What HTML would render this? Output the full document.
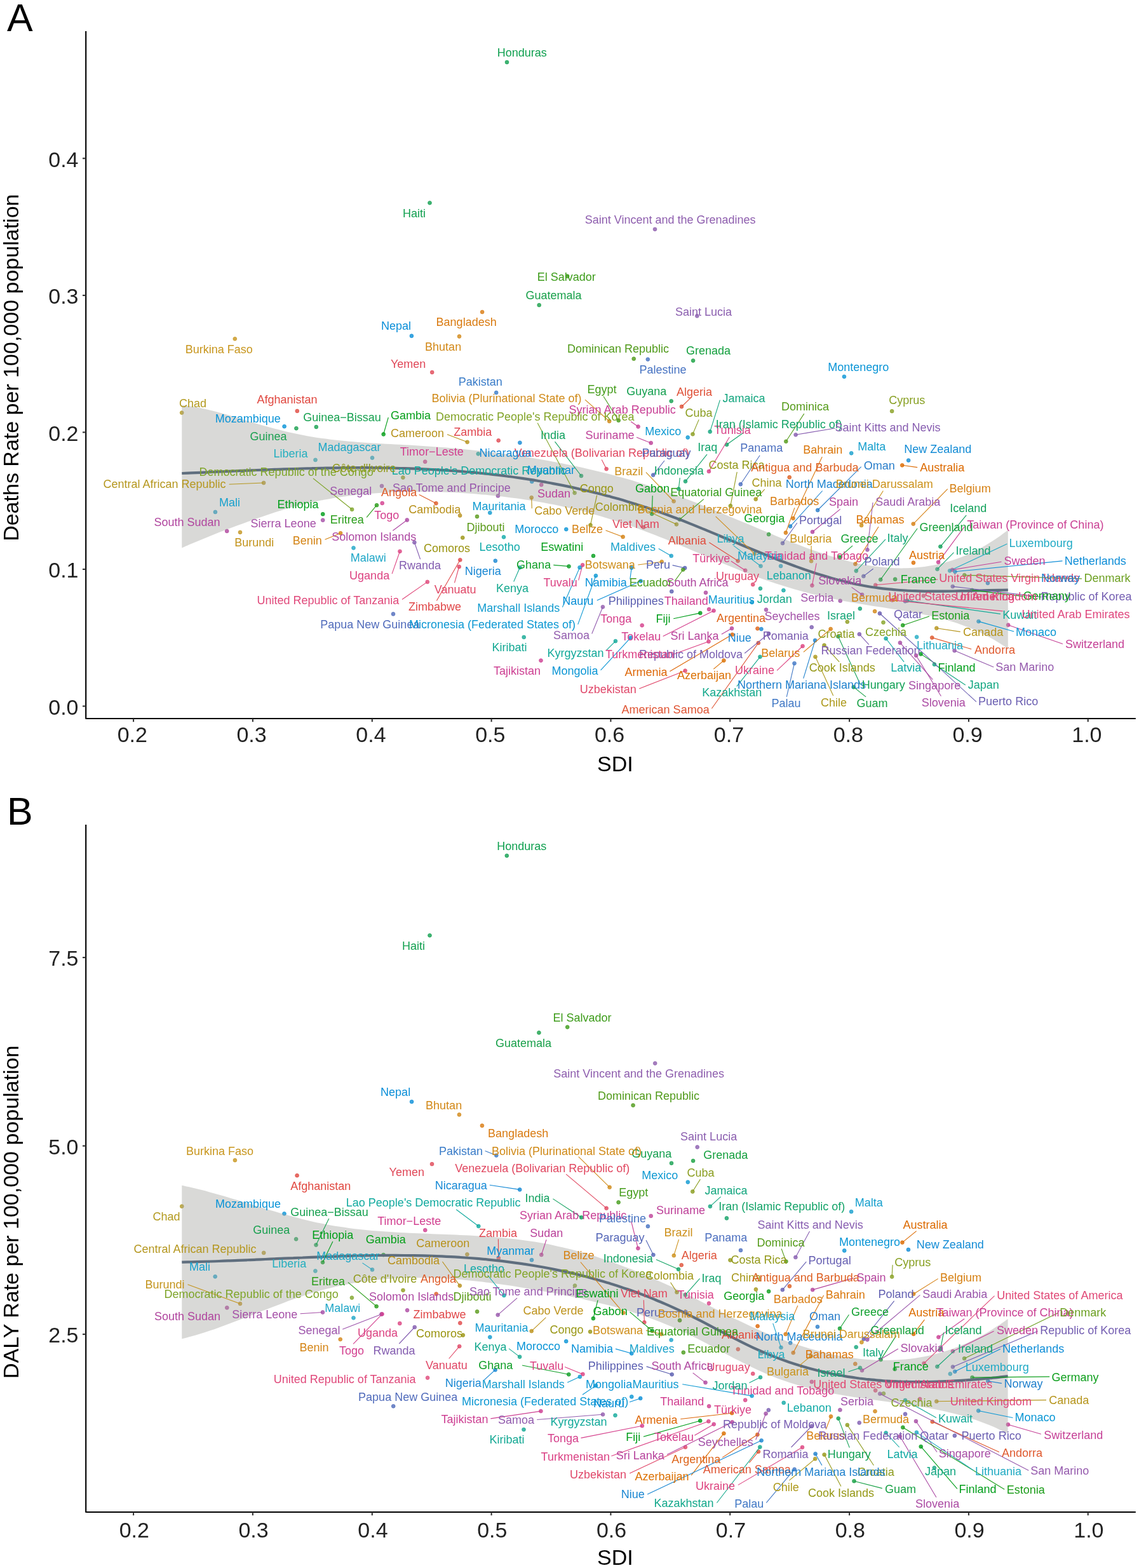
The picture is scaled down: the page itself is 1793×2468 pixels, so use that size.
<!DOCTYPE html>
<html><head><meta charset="utf-8"><title>SDI scatter</title>
<style>html,body{margin:0;padding:0;background:#fff;}svg{display:block;}</style>
</head><body>
<svg xmlns="http://www.w3.org/2000/svg" width="1793" height="2468" viewBox="0 0 1793 2468">
<style>
text{font-family:"Liberation Sans",Arial,sans-serif;font-size:18.0px;}
.lb text{stroke-width:0px;}
.tick{font-size:34px;fill:#222222;}
.title{font-size:34px;fill:#000;}
.letter{font-size:61px;fill:#000;}
</style>
<rect width="1793" height="2468" fill="#fff"/>
<circle cx="798.0" cy="97.9" r="2.9" fill="#10A050" fill-opacity="0.8" stroke="#10A050" stroke-opacity="0.8" stroke-width="0.9"/>
<circle cx="676.5" cy="319.3" r="2.9" fill="#12A050" fill-opacity="0.8" stroke="#12A050" stroke-opacity="0.8" stroke-width="0.9"/>
<circle cx="1031.0" cy="360.8" r="2.9" fill="#8E5EAE" fill-opacity="0.8" stroke="#8E5EAE" stroke-opacity="0.8" stroke-width="0.9"/>
<circle cx="893.1" cy="434.7" r="2.9" fill="#3D9C1A" fill-opacity="0.8" stroke="#3D9C1A" stroke-opacity="0.8" stroke-width="0.9"/>
<circle cx="848.7" cy="480.2" r="2.9" fill="#19A04A" fill-opacity="0.8" stroke="#19A04A" stroke-opacity="0.8" stroke-width="0.9"/>
<circle cx="759.1" cy="491.1" r="2.9" fill="#D97A10" fill-opacity="0.8" stroke="#D97A10" stroke-opacity="0.8" stroke-width="0.9"/>
<circle cx="1097.3" cy="497.3" r="2.9" fill="#8B5EAF" fill-opacity="0.8" stroke="#8B5EAF" stroke-opacity="0.8" stroke-width="0.9"/>
<circle cx="647.9" cy="528.7" r="2.9" fill="#0A8ED8" fill-opacity="0.8" stroke="#0A8ED8" stroke-opacity="0.8" stroke-width="0.9"/>
<circle cx="723.0" cy="529.5" r="2.9" fill="#D28817" fill-opacity="0.8" stroke="#D28817" stroke-opacity="0.8" stroke-width="0.9"/>
<circle cx="680.2" cy="586.0" r="2.9" fill="#E04858" fill-opacity="0.8" stroke="#E04858" stroke-opacity="0.8" stroke-width="0.9"/>
<circle cx="781.2" cy="618.0" r="2.9" fill="#3A7CC8" fill-opacity="0.8" stroke="#3A7CC8" stroke-opacity="0.8" stroke-width="0.9"/>
<circle cx="959.2" cy="663.0" r="2.9" fill="#D08A18" fill-opacity="0.8" stroke="#D08A18" stroke-opacity="0.8" stroke-width="0.9"/>
<circle cx="997.7" cy="564.7" r="2.9" fill="#509A1A" fill-opacity="0.8" stroke="#509A1A" stroke-opacity="0.8" stroke-width="0.9"/>
<circle cx="973.7" cy="661.7" r="2.9" fill="#449C1A" fill-opacity="0.8" stroke="#449C1A" stroke-opacity="0.8" stroke-width="0.9"/>
<circle cx="1004.6" cy="671.5" r="2.9" fill="#C84095" fill-opacity="0.8" stroke="#C84095" stroke-opacity="0.8" stroke-width="0.9"/>
<circle cx="603.7" cy="683.5" r="2.9" fill="#069F1A" fill-opacity="0.8" stroke="#069F1A" stroke-opacity="0.8" stroke-width="0.9"/>
<circle cx="904.6" cy="775.8" r="2.9" fill="#82A428" fill-opacity="0.8" stroke="#82A428" stroke-opacity="0.8" stroke-width="0.9"/>
<circle cx="735.6" cy="695.8" r="2.9" fill="#B7921C" fill-opacity="0.8" stroke="#B7921C" stroke-opacity="0.8" stroke-width="0.9"/>
<circle cx="784.7" cy="693.3" r="2.9" fill="#E04851" fill-opacity="0.8" stroke="#E04851" stroke-opacity="0.8" stroke-width="0.9"/>
<circle cx="915.0" cy="749.0" r="2.9" fill="#12A15F" fill-opacity="0.8" stroke="#12A15F" stroke-opacity="0.8" stroke-width="0.9"/>
<circle cx="954.6" cy="738.1" r="2.9" fill="#E14861" fill-opacity="0.8" stroke="#E14861" stroke-opacity="0.8" stroke-width="0.9"/>
<circle cx="669.2" cy="726.7" r="2.9" fill="#D13E8F" fill-opacity="0.8" stroke="#D13E8F" stroke-opacity="0.8" stroke-width="0.9"/>
<circle cx="369.8" cy="533.3" r="2.9" fill="#C8961E" fill-opacity="0.8" stroke="#C8961E" stroke-opacity="0.8" stroke-width="0.9"/>
<circle cx="286.2" cy="649.6" r="2.9" fill="#B39A20" fill-opacity="0.8" stroke="#B39A20" stroke-opacity="0.8" stroke-width="0.9"/>
<circle cx="467.8" cy="646.9" r="2.9" fill="#E04840" fill-opacity="0.8" stroke="#E04840" stroke-opacity="0.8" stroke-width="0.9"/>
<circle cx="447.6" cy="671.2" r="2.9" fill="#0993D7" fill-opacity="0.8" stroke="#0993D7" stroke-opacity="0.8" stroke-width="0.9"/>
<circle cx="497.8" cy="672.0" r="2.9" fill="#17A150" fill-opacity="0.8" stroke="#17A150" stroke-opacity="0.8" stroke-width="0.9"/>
<circle cx="466.4" cy="674.2" r="2.9" fill="#1AA050" fill-opacity="0.8" stroke="#1AA050" stroke-opacity="0.8" stroke-width="0.9"/>
<circle cx="496.5" cy="723.9" r="2.9" fill="#25AFBF" fill-opacity="0.8" stroke="#25AFBF" stroke-opacity="0.8" stroke-width="0.9"/>
<circle cx="586.0" cy="720.6" r="2.9" fill="#1FA7C6" fill-opacity="0.8" stroke="#1FA7C6" stroke-opacity="0.8" stroke-width="0.9"/>
<circle cx="554.1" cy="801.8" r="2.9" fill="#7FA52A" fill-opacity="0.8" stroke="#7FA52A" stroke-opacity="0.8" stroke-width="0.9"/>
<circle cx="415.1" cy="760.0" r="2.9" fill="#B5971F" fill-opacity="0.8" stroke="#B5971F" stroke-opacity="0.8" stroke-width="0.9"/>
<circle cx="601.0" cy="764.9" r="2.9" fill="#9D54AB" fill-opacity="0.8" stroke="#9D54AB" stroke-opacity="0.8" stroke-width="0.9"/>
<circle cx="338.9" cy="805.9" r="2.9" fill="#18A0CD" fill-opacity="0.8" stroke="#18A0CD" stroke-opacity="0.8" stroke-width="0.9"/>
<circle cx="357.2" cy="835.9" r="2.9" fill="#B0459E" fill-opacity="0.8" stroke="#B0459E" stroke-opacity="0.8" stroke-width="0.9"/>
<circle cx="378.0" cy="837.8" r="2.9" fill="#C3941D" fill-opacity="0.8" stroke="#C3941D" stroke-opacity="0.8" stroke-width="0.9"/>
<circle cx="508.2" cy="809.2" r="2.9" fill="#009E1A" fill-opacity="0.8" stroke="#009E1A" stroke-opacity="0.8" stroke-width="0.9"/>
<circle cx="508.2" cy="818.7" r="2.9" fill="#A54FA7" fill-opacity="0.8" stroke="#A54FA7" stroke-opacity="0.8" stroke-width="0.9"/>
<circle cx="593.0" cy="795.2" r="2.9" fill="#2A9D1A" fill-opacity="0.8" stroke="#2A9D1A" stroke-opacity="0.8" stroke-width="0.9"/>
<circle cx="536.1" cy="839.2" r="2.9" fill="#D48415" fill-opacity="0.8" stroke="#D48415" stroke-opacity="0.8" stroke-width="0.9"/>
<circle cx="640.8" cy="818.5" r="2.9" fill="#AD48A2" fill-opacity="0.8" stroke="#AD48A2" stroke-opacity="0.8" stroke-width="0.9"/>
<circle cx="556.5" cy="862.4" r="2.9" fill="#1EA6C7" fill-opacity="0.8" stroke="#1EA6C7" stroke-opacity="0.8" stroke-width="0.9"/>
<circle cx="629.5" cy="867.8" r="2.9" fill="#DC4482" fill-opacity="0.8" stroke="#DC4482" stroke-opacity="0.8" stroke-width="0.9"/>
<circle cx="672.8" cy="915.9" r="2.9" fill="#E0487A" fill-opacity="0.8" stroke="#E0487A" stroke-opacity="0.8" stroke-width="0.9"/>
<circle cx="619.0" cy="966.4" r="2.9" fill="#506BBB" fill-opacity="0.8" stroke="#506BBB" stroke-opacity="0.8" stroke-width="0.9"/>
<circle cx="783.9" cy="780.4" r="2.9" fill="#9858AC" fill-opacity="0.8" stroke="#9858AC" stroke-opacity="0.8" stroke-width="0.9"/>
<circle cx="686.4" cy="792.2" r="2.9" fill="#DE5C29" fill-opacity="0.8" stroke="#DE5C29" stroke-opacity="0.8" stroke-width="0.9"/>
<circle cx="852.2" cy="763.0" r="2.9" fill="#BA429A" fill-opacity="0.8" stroke="#BA429A" stroke-opacity="0.8" stroke-width="0.9"/>
<circle cx="818.4" cy="696.8" r="2.9" fill="#1589D5" fill-opacity="0.8" stroke="#1589D5" stroke-opacity="0.8" stroke-width="0.9"/>
<circle cx="752.8" cy="714.3" r="2.9" fill="#12AA9F" fill-opacity="0.8" stroke="#12AA9F" stroke-opacity="0.8" stroke-width="0.9"/>
<circle cx="634.4" cy="751.6" r="2.9" fill="#919B1C" fill-opacity="0.8" stroke="#919B1C" stroke-opacity="0.8" stroke-width="0.9"/>
<circle cx="601.7" cy="792.0" r="2.9" fill="#D33F8E" fill-opacity="0.8" stroke="#D33F8E" stroke-opacity="0.8" stroke-width="0.9"/>
<circle cx="724.1" cy="811.4" r="2.9" fill="#B8901A" fill-opacity="0.8" stroke="#B8901A" stroke-opacity="0.8" stroke-width="0.9"/>
<circle cx="771.3" cy="807.1" r="2.9" fill="#109AD0" fill-opacity="0.8" stroke="#109AD0" stroke-opacity="0.8" stroke-width="0.9"/>
<circle cx="751.0" cy="813.0" r="2.9" fill="#5A9A1A" fill-opacity="0.8" stroke="#5A9A1A" stroke-opacity="0.8" stroke-width="0.9"/>
<circle cx="652.4" cy="853.7" r="2.9" fill="#845DB0" fill-opacity="0.8" stroke="#845DB0" stroke-opacity="0.8" stroke-width="0.9"/>
<circle cx="728.3" cy="846.3" r="2.9" fill="#9A9410" fill-opacity="0.8" stroke="#9A9410" stroke-opacity="0.8" stroke-width="0.9"/>
<circle cx="793.0" cy="845.3" r="2.9" fill="#10AAAA" fill-opacity="0.8" stroke="#10AAAA" stroke-opacity="0.8" stroke-width="0.9"/>
<circle cx="779.8" cy="882.7" r="2.9" fill="#1887D3" fill-opacity="0.8" stroke="#1887D3" stroke-opacity="0.8" stroke-width="0.9"/>
<circle cx="1028.2" cy="747.7" r="2.9" fill="#5466B7" fill-opacity="0.8" stroke="#5466B7" stroke-opacity="0.8" stroke-width="0.9"/>
<circle cx="837.3" cy="758.0" r="2.9" fill="#0992D7" fill-opacity="0.8" stroke="#0992D7" stroke-opacity="0.8" stroke-width="0.9"/>
<circle cx="929.5" cy="826.5" r="2.9" fill="#989613" fill-opacity="0.8" stroke="#989613" stroke-opacity="0.8" stroke-width="0.9"/>
<circle cx="836.7" cy="783.2" r="2.9" fill="#BD921B" fill-opacity="0.8" stroke="#BD921B" stroke-opacity="0.8" stroke-width="0.9"/>
<circle cx="1064.9" cy="825.3" r="2.9" fill="#A09615" fill-opacity="0.8" stroke="#A09615" stroke-opacity="0.8" stroke-width="0.9"/>
<circle cx="1060.6" cy="789.0" r="2.9" fill="#CD901B" fill-opacity="0.8" stroke="#CD901B" stroke-opacity="0.8" stroke-width="0.9"/>
<circle cx="1068.3" cy="769.6" r="2.9" fill="#12A364" fill-opacity="0.8" stroke="#12A364" stroke-opacity="0.8" stroke-width="0.9"/>
<circle cx="1026.2" cy="808.8" r="2.9" fill="#039E1A" fill-opacity="0.8" stroke="#039E1A" stroke-opacity="0.8" stroke-width="0.9"/>
<circle cx="1069.9" cy="817.6" r="2.9" fill="#359C1A" fill-opacity="0.8" stroke="#359C1A" stroke-opacity="0.8" stroke-width="0.9"/>
<circle cx="1187.8" cy="871.6" r="2.9" fill="#CF8C19" fill-opacity="0.8" stroke="#CF8C19" stroke-opacity="0.8" stroke-width="0.9"/>
<circle cx="1013.0" cy="829.8" r="2.9" fill="#E0475D" fill-opacity="0.8" stroke="#E0475D" stroke-opacity="0.8" stroke-width="0.9"/>
<circle cx="891.3" cy="833.1" r="2.9" fill="#0994D6" fill-opacity="0.8" stroke="#0994D6" stroke-opacity="0.8" stroke-width="0.9"/>
<circle cx="980.6" cy="845.0" r="2.9" fill="#D58214" fill-opacity="0.8" stroke="#D58214" stroke-opacity="0.8" stroke-width="0.9"/>
<circle cx="1161.6" cy="882.8" r="2.9" fill="#E04C3C" fill-opacity="0.8" stroke="#E04C3C" stroke-opacity="0.8" stroke-width="0.9"/>
<circle cx="934.0" cy="874.9" r="2.9" fill="#039D1A" fill-opacity="0.8" stroke="#039D1A" stroke-opacity="0.8" stroke-width="0.9"/>
<circle cx="1056.7" cy="874.9" r="2.9" fill="#1AA2CB" fill-opacity="0.8" stroke="#1AA2CB" stroke-opacity="0.8" stroke-width="0.9"/>
<circle cx="895.5" cy="891.4" r="2.9" fill="#109F28" fill-opacity="0.8" stroke="#109F28" stroke-opacity="0.8" stroke-width="0.9"/>
<circle cx="1041.7" cy="884.2" r="2.9" fill="#CE8E1A" fill-opacity="0.8" stroke="#CE8E1A" stroke-opacity="0.8" stroke-width="0.9"/>
<circle cx="1078.1" cy="894.0" r="2.9" fill="#5762B4" fill-opacity="0.8" stroke="#5762B4" stroke-opacity="0.8" stroke-width="0.9"/>
<circle cx="1024.7" cy="697.2" r="2.9" fill="#BE4299" fill-opacity="0.8" stroke="#BE4299" stroke-opacity="0.8" stroke-width="0.9"/>
<circle cx="1079.0" cy="757.6" r="2.9" fill="#13A46D" fill-opacity="0.8" stroke="#13A46D" stroke-opacity="0.8" stroke-width="0.9"/>
<circle cx="1165.8" cy="762.2" r="2.9" fill="#4C6FBF" fill-opacity="0.8" stroke="#4C6FBF" stroke-opacity="0.8" stroke-width="0.9"/>
<circle cx="1248.5" cy="815.8" r="2.9" fill="#DA770C" fill-opacity="0.8" stroke="#DA770C" stroke-opacity="0.8" stroke-width="0.9"/>
<circle cx="1340.2" cy="713.3" r="2.9" fill="#169FCD" fill-opacity="0.8" stroke="#169FCD" stroke-opacity="0.8" stroke-width="0.9"/>
<circle cx="1149.9" cy="796.2" r="2.9" fill="#939919" fill-opacity="0.8" stroke="#939919" stroke-opacity="0.8" stroke-width="0.9"/>
<circle cx="1242.7" cy="751.2" r="2.9" fill="#DD5F21" fill-opacity="0.8" stroke="#DD5F21" stroke-opacity="0.8" stroke-width="0.9"/>
<circle cx="1287.2" cy="803.0" r="2.9" fill="#2A7ECA" fill-opacity="0.8" stroke="#2A7ECA" stroke-opacity="0.8" stroke-width="0.9"/>
<circle cx="1189.7" cy="785.7" r="2.9" fill="#A79719" fill-opacity="0.8" stroke="#A79719" stroke-opacity="0.8" stroke-width="0.9"/>
<circle cx="1244.1" cy="828.4" r="2.9" fill="#1D84CF" fill-opacity="0.8" stroke="#1D84CF" stroke-opacity="0.8" stroke-width="0.9"/>
<circle cx="1356.1" cy="826.9" r="2.9" fill="#CC921C" fill-opacity="0.8" stroke="#CC921C" stroke-opacity="0.8" stroke-width="0.9"/>
<circle cx="1236.9" cy="838.5" r="2.9" fill="#D87C11" fill-opacity="0.8" stroke="#D87C11" stroke-opacity="0.8" stroke-width="0.9"/>
<circle cx="1210.1" cy="841.1" r="2.9" fill="#0A9F1A" fill-opacity="0.8" stroke="#0A9F1A" stroke-opacity="0.8" stroke-width="0.9"/>
<circle cx="1279.0" cy="837.2" r="2.9" fill="#B4449C" fill-opacity="0.8" stroke="#B4449C" stroke-opacity="0.8" stroke-width="0.9"/>
<circle cx="1232.0" cy="855.0" r="2.9" fill="#655EB1" fill-opacity="0.8" stroke="#655EB1" stroke-opacity="0.8" stroke-width="0.9"/>
<circle cx="1346.4" cy="887.7" r="2.9" fill="#DA7407" fill-opacity="0.8" stroke="#DA7407" stroke-opacity="0.8" stroke-width="0.9"/>
<circle cx="1365.4" cy="865.3" r="2.9" fill="#9A56AB" fill-opacity="0.8" stroke="#9A56AB" stroke-opacity="0.8" stroke-width="0.9"/>
<circle cx="1277.1" cy="883.2" r="2.9" fill="#C9941D" fill-opacity="0.8" stroke="#C9941D" stroke-opacity="0.8" stroke-width="0.9"/>
<circle cx="1321.7" cy="876.8" r="2.9" fill="#12A031" fill-opacity="0.8" stroke="#12A031" stroke-opacity="0.8" stroke-width="0.9"/>
<circle cx="1197.5" cy="891.0" r="2.9" fill="#24ADC1" fill-opacity="0.8" stroke="#24ADC1" stroke-opacity="0.8" stroke-width="0.9"/>
<circle cx="1229.1" cy="891.0" r="2.9" fill="#1CA4C9" fill-opacity="0.8" stroke="#1CA4C9" stroke-opacity="0.8" stroke-width="0.9"/>
<circle cx="1278.4" cy="921.5" r="2.9" fill="#D64089" fill-opacity="0.8" stroke="#D64089" stroke-opacity="0.8" stroke-width="0.9"/>
<circle cx="1173.2" cy="897.8" r="2.9" fill="#DA4186" fill-opacity="0.8" stroke="#DA4186" stroke-opacity="0.8" stroke-width="0.9"/>
<circle cx="1359.4" cy="906.9" r="2.9" fill="#605EB0" fill-opacity="0.8" stroke="#605EB0" stroke-opacity="0.8" stroke-width="0.9"/>
<circle cx="1115.9" cy="741.9" r="2.9" fill="#D94188" fill-opacity="0.8" stroke="#D94188" stroke-opacity="0.8" stroke-width="0.9"/>
<circle cx="1430.1" cy="724.6" r="2.9" fill="#128BD5" fill-opacity="0.8" stroke="#128BD5" stroke-opacity="0.8" stroke-width="0.9"/>
<circle cx="1420.2" cy="732.3" r="2.9" fill="#DC6A00" fill-opacity="0.8" stroke="#DC6A00" stroke-opacity="0.8" stroke-width="0.9"/>
<circle cx="1437.7" cy="824.6" r="2.9" fill="#D68013" fill-opacity="0.8" stroke="#D68013" stroke-opacity="0.8" stroke-width="0.9"/>
<circle cx="1480.4" cy="860.3" r="2.9" fill="#11A15A" fill-opacity="0.8" stroke="#11A15A" stroke-opacity="0.8" stroke-width="0.9"/>
<circle cx="1386.2" cy="912.3" r="2.9" fill="#139F38" fill-opacity="0.8" stroke="#139F38" stroke-opacity="0.8" stroke-width="0.9"/>
<circle cx="1477.1" cy="884.8" r="2.9" fill="#CA3F93" fill-opacity="0.8" stroke="#CA3F93" stroke-opacity="0.8" stroke-width="0.9"/>
<circle cx="1347.8" cy="898.5" r="2.9" fill="#14A67A" fill-opacity="0.8" stroke="#14A67A" stroke-opacity="0.8" stroke-width="0.9"/>
<circle cx="1437.9" cy="885.7" r="2.9" fill="#DC6D00" fill-opacity="0.8" stroke="#DC6D00" stroke-opacity="0.8" stroke-width="0.9"/>
<circle cx="1475.5" cy="895.8" r="2.9" fill="#13A472" fill-opacity="0.8" stroke="#13A472" stroke-opacity="0.8" stroke-width="0.9"/>
<circle cx="1495.2" cy="898.3" r="2.9" fill="#21AAC5" fill-opacity="0.8" stroke="#21AAC5" stroke-opacity="0.8" stroke-width="0.9"/>
<circle cx="1499.1" cy="896.9" r="2.9" fill="#C24098" fill-opacity="0.8" stroke="#C24098" stroke-opacity="0.8" stroke-width="0.9"/>
<circle cx="1503.4" cy="899.8" r="2.9" fill="#0E8DD7" fill-opacity="0.8" stroke="#0E8DD7" stroke-opacity="0.8" stroke-width="0.9"/>
<circle cx="1019.8" cy="565.6" r="2.9" fill="#4773C2" fill-opacity="0.8" stroke="#4773C2" stroke-opacity="0.8" stroke-width="0.9"/>
<circle cx="1091.1" cy="567.6" r="2.9" fill="#15A03F" fill-opacity="0.8" stroke="#15A03F" stroke-opacity="0.8" stroke-width="0.9"/>
<circle cx="1056.7" cy="631.3" r="2.9" fill="#15A050" fill-opacity="0.8" stroke="#15A050" stroke-opacity="0.8" stroke-width="0.9"/>
<circle cx="1073.0" cy="640.0" r="2.9" fill="#DF5138" fill-opacity="0.8" stroke="#DF5138" stroke-opacity="0.8" stroke-width="0.9"/>
<circle cx="1090.5" cy="683.3" r="2.9" fill="#8B9E21" fill-opacity="0.8" stroke="#8B9E21" stroke-opacity="0.8" stroke-width="0.9"/>
<circle cx="1117.7" cy="679.4" r="2.9" fill="#14A67F" fill-opacity="0.8" stroke="#14A67F" stroke-opacity="0.8" stroke-width="0.9"/>
<circle cx="1082.7" cy="688.5" r="2.9" fill="#0E99D2" fill-opacity="0.8" stroke="#0E99D2" stroke-opacity="0.8" stroke-width="0.9"/>
<circle cx="1144.1" cy="699.8" r="2.9" fill="#13A368" fill-opacity="0.8" stroke="#13A368" stroke-opacity="0.8" stroke-width="0.9"/>
<circle cx="1237.3" cy="694.8" r="2.9" fill="#559B1A" fill-opacity="0.8" stroke="#559B1A" stroke-opacity="0.8" stroke-width="0.9"/>
<circle cx="1328.9" cy="592.8" r="2.9" fill="#0A95D6" fill-opacity="0.8" stroke="#0A95D6" stroke-opacity="0.8" stroke-width="0.9"/>
<circle cx="1404.1" cy="647.2" r="2.9" fill="#88A023" fill-opacity="0.8" stroke="#88A023" stroke-opacity="0.8" stroke-width="0.9"/>
<circle cx="1252.6" cy="684.3" r="2.9" fill="#875DB0" fill-opacity="0.8" stroke="#875DB0" stroke-opacity="0.8" stroke-width="0.9"/>
<circle cx="1378.2" cy="920.8" r="2.9" fill="#E14872" fill-opacity="0.8" stroke="#E14872" stroke-opacity="0.8" stroke-width="0.9"/>
<circle cx="1554.9" cy="917.7" r="2.9" fill="#2180CC" fill-opacity="0.8" stroke="#2180CC" stroke-opacity="0.8" stroke-width="0.9"/>
<circle cx="1518.2" cy="905.2" r="2.9" fill="#6DA022" fill-opacity="0.8" stroke="#6DA022" stroke-opacity="0.8" stroke-width="0.9"/>
<circle cx="1499.7" cy="923.1" r="2.9" fill="#735DB1" fill-opacity="0.8" stroke="#735DB1" stroke-opacity="0.8" stroke-width="0.9"/>
<circle cx="1530.2" cy="928.9" r="2.9" fill="#0E9F1D" fill-opacity="0.8" stroke="#0E9F1D" stroke-opacity="0.8" stroke-width="0.9"/>
<circle cx="1562.6" cy="940.3" r="2.9" fill="#DF477C" fill-opacity="0.8" stroke="#DF477C" stroke-opacity="0.8" stroke-width="0.9"/>
<circle cx="1428.3" cy="945.4" r="2.9" fill="#13A997" fill-opacity="0.8" stroke="#13A997" stroke-opacity="0.8" stroke-width="0.9"/>
<circle cx="1404.6" cy="944.6" r="2.9" fill="#DF467D" fill-opacity="0.8" stroke="#DF467D" stroke-opacity="0.8" stroke-width="0.9"/>
<circle cx="1540.5" cy="978.1" r="2.9" fill="#0B97D4" fill-opacity="0.8" stroke="#0B97D4" stroke-opacity="0.8" stroke-width="0.9"/>
<circle cx="1587.1" cy="983.7" r="2.9" fill="#C54096" fill-opacity="0.8" stroke="#C54096" stroke-opacity="0.8" stroke-width="0.9"/>
<circle cx="1474.3" cy="988.7" r="2.9" fill="#B6951D" fill-opacity="0.8" stroke="#B6951D" stroke-opacity="0.8" stroke-width="0.9"/>
<circle cx="1467.2" cy="1003.6" r="2.9" fill="#DF592E" fill-opacity="0.8" stroke="#DF592E" stroke-opacity="0.8" stroke-width="0.9"/>
<circle cx="1502.6" cy="1024.1" r="2.9" fill="#955AAD" fill-opacity="0.8" stroke="#955AAD" stroke-opacity="0.8" stroke-width="0.9"/>
<circle cx="1449.5" cy="1029.4" r="2.9" fill="#009E1A" fill-opacity="0.8" stroke="#009E1A" stroke-opacity="0.8" stroke-width="0.9"/>
<circle cx="1233.4" cy="929.2" r="2.9" fill="#11AAA6" fill-opacity="0.8" stroke="#11AAA6" stroke-opacity="0.8" stroke-width="0.9"/>
<circle cx="1196.9" cy="926.3" r="2.9" fill="#14A787" fill-opacity="0.8" stroke="#14A787" stroke-opacity="0.8" stroke-width="0.9"/>
<circle cx="1357.1" cy="936.0" r="2.9" fill="#A94BA4" fill-opacity="0.8" stroke="#A94BA4" stroke-opacity="0.8" stroke-width="0.9"/>
<circle cx="1185.2" cy="920.0" r="2.9" fill="#E0476E" fill-opacity="0.8" stroke="#E0476E" stroke-opacity="0.8" stroke-width="0.9"/>
<circle cx="1409.1" cy="911.7" r="2.9" fill="#009F1A" fill-opacity="0.8" stroke="#009F1A" stroke-opacity="0.8" stroke-width="0.9"/>
<circle cx="1183.8" cy="948.1" r="2.9" fill="#0F9AD2" fill-opacity="0.8" stroke="#0F9AD2" stroke-opacity="0.8" stroke-width="0.9"/>
<circle cx="1322.7" cy="945.7" r="2.9" fill="#A052A9" fill-opacity="0.8" stroke="#A052A9" stroke-opacity="0.8" stroke-width="0.9"/>
<circle cx="1377.1" cy="962.2" r="2.9" fill="#D38716" fill-opacity="0.8" stroke="#D38716" stroke-opacity="0.8" stroke-width="0.9"/>
<circle cx="1453.8" cy="937.8" r="2.9" fill="#E04876" fill-opacity="0.8" stroke="#E04876" stroke-opacity="0.8" stroke-width="0.9"/>
<circle cx="1353.8" cy="958.0" r="2.9" fill="#13A475" fill-opacity="0.8" stroke="#13A475" stroke-opacity="0.8" stroke-width="0.9"/>
<circle cx="1206.0" cy="959.7" r="2.9" fill="#A351A8" fill-opacity="0.8" stroke="#A351A8" stroke-opacity="0.8" stroke-width="0.9"/>
<circle cx="1424.9" cy="946.3" r="2.9" fill="#6F5DB1" fill-opacity="0.8" stroke="#6F5DB1" stroke-opacity="0.8" stroke-width="0.9"/>
<circle cx="1421.2" cy="984.2" r="2.9" fill="#1C9D1A" fill-opacity="0.8" stroke="#1C9D1A" stroke-opacity="0.8" stroke-width="0.9"/>
<circle cx="1333.8" cy="978.7" r="2.9" fill="#8E9C1F" fill-opacity="0.8" stroke="#8E9C1F" stroke-opacity="0.8" stroke-width="0.9"/>
<circle cx="1307.6" cy="990.0" r="2.9" fill="#D87F12" fill-opacity="0.8" stroke="#D87F12" stroke-opacity="0.8" stroke-width="0.9"/>
<circle cx="1390.5" cy="979.7" r="2.9" fill="#85A226" fill-opacity="0.8" stroke="#85A226" stroke-opacity="0.8" stroke-width="0.9"/>
<circle cx="1352.8" cy="998.2" r="2.9" fill="#805DB1" fill-opacity="0.8" stroke="#805DB1" stroke-opacity="0.8" stroke-width="0.9"/>
<circle cx="1277.7" cy="987.2" r="2.9" fill="#7C5DB0" fill-opacity="0.8" stroke="#7C5DB0" stroke-opacity="0.8" stroke-width="0.9"/>
<circle cx="1263.5" cy="1017.0" r="2.9" fill="#DD4480" fill-opacity="0.8" stroke="#DD4480" stroke-opacity="0.8" stroke-width="0.9"/>
<circle cx="1297.5" cy="1015.6" r="2.9" fill="#969817" fill-opacity="0.8" stroke="#969817" stroke-opacity="0.8" stroke-width="0.9"/>
<circle cx="1394.6" cy="1005.0" r="2.9" fill="#11A9A3" fill-opacity="0.8" stroke="#11A9A3" stroke-opacity="0.8" stroke-width="0.9"/>
<circle cx="1443.1" cy="1002.6" r="2.9" fill="#22ABC3" fill-opacity="0.8" stroke="#22ABC3" stroke-opacity="0.8" stroke-width="0.9"/>
<circle cx="1192.5" cy="989.3" r="2.9" fill="#DD6318" fill-opacity="0.8" stroke="#DD6318" stroke-opacity="0.8" stroke-width="0.9"/>
<circle cx="1152.0" cy="989.1" r="2.9" fill="#B7439C" fill-opacity="0.8" stroke="#B7439C" stroke-opacity="0.8" stroke-width="0.9"/>
<circle cx="1198.4" cy="990.1" r="2.9" fill="#1A86D1" fill-opacity="0.8" stroke="#1A86D1" stroke-opacity="0.8" stroke-width="0.9"/>
<circle cx="1210.1" cy="997.3" r="2.9" fill="#785DB1" fill-opacity="0.8" stroke="#785DB1" stroke-opacity="0.8" stroke-width="0.9"/>
<circle cx="1193.8" cy="1012.0" r="2.9" fill="#DF5433" fill-opacity="0.8" stroke="#DF5433" stroke-opacity="0.8" stroke-width="0.9"/>
<circle cx="1139.4" cy="1039.6" r="2.9" fill="#DB7002" fill-opacity="0.8" stroke="#DB7002" stroke-opacity="0.8" stroke-width="0.9"/>
<circle cx="1196.5" cy="1033.8" r="2.9" fill="#13A88B" fill-opacity="0.8" stroke="#13A88B" stroke-opacity="0.8" stroke-width="0.9"/>
<circle cx="1283.1" cy="1008.0" r="2.9" fill="#1F81CD" fill-opacity="0.8" stroke="#1F81CD" stroke-opacity="0.8" stroke-width="0.9"/>
<circle cx="1250.5" cy="1044.1" r="2.9" fill="#4178C5" fill-opacity="0.8" stroke="#4178C5" stroke-opacity="0.8" stroke-width="0.9"/>
<circle cx="1283.5" cy="1033.8" r="2.9" fill="#AD991C" fill-opacity="0.8" stroke="#AD991C" stroke-opacity="0.8" stroke-width="0.9"/>
<circle cx="1343.7" cy="1081.4" r="2.9" fill="#17A045" fill-opacity="0.8" stroke="#17A045" stroke-opacity="0.8" stroke-width="0.9"/>
<circle cx="1319.4" cy="1001.7" r="2.9" fill="#11A055" fill-opacity="0.8" stroke="#11A055" stroke-opacity="0.8" stroke-width="0.9"/>
<circle cx="818.4" cy="893.2" r="2.9" fill="#13A88E" fill-opacity="0.8" stroke="#13A88E" stroke-opacity="0.8" stroke-width="0.9"/>
<circle cx="1075.3" cy="896.5" r="2.9" fill="#4A9B1A" fill-opacity="0.8" stroke="#4A9B1A" stroke-opacity="0.8" stroke-width="0.9"/>
<circle cx="917.1" cy="889.3" r="2.9" fill="#DB4383" fill-opacity="0.8" stroke="#DB4383" stroke-opacity="0.8" stroke-width="0.9"/>
<circle cx="912.6" cy="893.2" r="2.9" fill="#139CCF" fill-opacity="0.8" stroke="#139CCF" stroke-opacity="0.8" stroke-width="0.9"/>
<circle cx="937.9" cy="906.2" r="2.9" fill="#0D98D3" fill-opacity="0.8" stroke="#0D98D3" stroke-opacity="0.8" stroke-width="0.9"/>
<circle cx="994.2" cy="893.6" r="2.9" fill="#0991D8" fill-opacity="0.8" stroke="#0991D8" stroke-opacity="0.8" stroke-width="0.9"/>
<circle cx="1008.7" cy="914.6" r="2.9" fill="#0A8FD7" fill-opacity="0.8" stroke="#0A8FD7" stroke-opacity="0.8" stroke-width="0.9"/>
<circle cx="1057.3" cy="930.9" r="2.9" fill="#5A5EB0" fill-opacity="0.8" stroke="#5A5EB0" stroke-opacity="0.8" stroke-width="0.9"/>
<circle cx="1116.1" cy="959.0" r="2.9" fill="#D03E90" fill-opacity="0.8" stroke="#D03E90" stroke-opacity="0.8" stroke-width="0.9"/>
<circle cx="1111.0" cy="932.8" r="2.9" fill="#AE469F" fill-opacity="0.8" stroke="#AE469F" stroke-opacity="0.8" stroke-width="0.9"/>
<circle cx="1010.7" cy="984.3" r="2.9" fill="#D53F8B" fill-opacity="0.8" stroke="#D53F8B" stroke-opacity="0.8" stroke-width="0.9"/>
<circle cx="948.9" cy="955.3" r="2.9" fill="#925CAE" fill-opacity="0.8" stroke="#925CAE" stroke-opacity="0.8" stroke-width="0.9"/>
<circle cx="1102.3" cy="964.9" r="2.9" fill="#009D1A" fill-opacity="0.8" stroke="#009D1A" stroke-opacity="0.8" stroke-width="0.9"/>
<circle cx="1123.5" cy="961.2" r="2.9" fill="#D43F8D" fill-opacity="0.8" stroke="#D43F8D" stroke-opacity="0.8" stroke-width="0.9"/>
<circle cx="824.7" cy="1002.9" r="2.9" fill="#13A893" fill-opacity="0.8" stroke="#13A893" stroke-opacity="0.8" stroke-width="0.9"/>
<circle cx="968.9" cy="1009.1" r="2.9" fill="#12A99A" fill-opacity="0.8" stroke="#12A99A" stroke-opacity="0.8" stroke-width="0.9"/>
<circle cx="1115.5" cy="1009.7" r="2.9" fill="#DB4285" fill-opacity="0.8" stroke="#DB4285" stroke-opacity="0.8" stroke-width="0.9"/>
<circle cx="992.8" cy="1003.7" r="2.9" fill="#0B96D5" fill-opacity="0.8" stroke="#0B96D5" stroke-opacity="0.8" stroke-width="0.9"/>
<circle cx="851.5" cy="1039.6" r="2.9" fill="#CD3F92" fill-opacity="0.8" stroke="#CD3F92" stroke-opacity="0.8" stroke-width="0.9"/>
<circle cx="1152.8" cy="998.8" r="2.9" fill="#DD6606" fill-opacity="0.8" stroke="#DD6606" stroke-opacity="0.8" stroke-width="0.9"/>
<circle cx="1078.6" cy="1055.7" r="2.9" fill="#E0486A" fill-opacity="0.8" stroke="#E0486A" stroke-opacity="0.8" stroke-width="0.9"/>
<circle cx="722.7" cy="892.0" r="2.9" fill="#E04766" fill-opacity="0.8" stroke="#E04766" stroke-opacity="0.8" stroke-width="0.9"/>
<circle cx="724.3" cy="881.3" r="2.9" fill="#E04748" fill-opacity="0.8" stroke="#E04748" stroke-opacity="0.8" stroke-width="0.9"/>
<circle cx="1470.9" cy="1045.7" r="2.9" fill="#14A782" fill-opacity="0.8" stroke="#14A782" stroke-opacity="0.8" stroke-width="0.9"/>
<circle cx="1416.9" cy="1011.7" r="2.9" fill="#A74DA5" fill-opacity="0.8" stroke="#A74DA5" stroke-opacity="0.8" stroke-width="0.9"/>
<circle cx="1442.1" cy="1031.7" r="2.9" fill="#AB4AA3" fill-opacity="0.8" stroke="#AB4AA3" stroke-opacity="0.8" stroke-width="0.9"/>
<circle cx="1384.9" cy="965.5" r="2.9" fill="#6A5EB1" fill-opacity="0.8" stroke="#6A5EB1" stroke-opacity="0.8" stroke-width="0.9"/>
<path d="M286.3,637.7 C288.7,638.0 296.0,638.8 300.9,639.5 C305.8,640.3 310.7,641.2 315.5,642.2 C320.4,643.2 325.3,644.3 330.1,645.5 C335.0,646.6 339.9,647.9 344.7,649.2 C349.6,650.5 354.5,651.9 359.4,653.3 C364.2,654.8 369.1,656.2 374.0,657.7 C378.8,659.2 383.7,660.7 388.6,662.2 C393.5,663.7 398.3,665.2 403.2,666.6 C408.1,668.0 412.9,669.5 417.8,670.8 C422.7,672.2 427.6,673.5 432.4,674.8 C437.3,676.0 442.2,677.2 447.0,678.4 C451.9,679.5 456.8,680.7 461.6,681.8 C466.5,682.9 471.4,683.9 476.3,684.8 C481.1,685.8 486.0,686.6 490.9,687.5 C495.7,688.3 500.6,689.0 505.5,689.7 C510.4,690.4 515.2,691.1 520.1,691.7 C525.0,692.3 529.8,692.8 534.7,693.3 C539.6,693.8 544.5,694.3 549.3,694.7 C554.2,695.1 559.1,695.5 563.9,695.9 C568.8,696.3 573.7,696.6 578.5,696.9 C583.4,697.3 588.3,697.5 593.2,697.8 C598.0,698.1 602.9,698.4 607.8,698.7 C612.6,698.9 617.5,699.2 622.4,699.5 C627.3,699.7 632.1,700.0 637.0,700.3 C641.9,700.5 646.7,700.8 651.6,701.1 C656.5,701.4 661.4,701.7 666.2,702.0 C671.1,702.4 676.0,702.7 680.8,703.0 C685.7,703.4 690.6,703.7 695.4,704.1 C700.3,704.5 705.2,704.9 710.1,705.3 C714.9,705.7 719.8,706.1 724.7,706.6 C729.5,707.0 734.4,707.5 739.3,708.0 C744.2,708.5 749.0,709.0 753.9,709.5 C758.8,710.0 763.6,710.6 768.5,711.1 C773.4,711.7 778.2,712.3 783.1,712.9 C788.0,713.5 792.9,714.2 797.7,714.8 C802.6,715.5 807.5,716.2 812.3,716.9 C817.2,717.6 822.1,718.3 827.0,719.1 C831.8,719.9 836.7,720.7 841.6,721.5 C846.4,722.3 851.3,723.1 856.2,724.0 C861.1,724.8 865.9,725.7 870.8,726.7 C875.7,727.6 880.5,728.5 885.4,729.5 C890.3,730.5 895.1,731.5 900.0,732.5 C904.9,733.5 909.8,734.6 914.6,735.6 C919.5,736.7 924.4,737.8 929.2,739.0 C934.1,740.1 939.0,741.3 943.9,742.4 C948.7,743.6 953.6,744.9 958.5,746.1 C963.3,747.4 968.2,748.7 973.1,750.0 C978.0,751.3 982.8,752.7 987.7,754.1 C992.6,755.5 997.4,756.9 1002.3,758.4 C1007.2,759.8 1012.0,761.4 1016.9,762.9 C1021.8,764.5 1026.7,766.1 1031.5,767.7 C1036.4,769.3 1041.3,771.0 1046.1,772.7 C1051.0,774.4 1055.9,776.2 1060.8,778.0 C1065.6,779.8 1070.5,781.6 1075.4,783.4 C1080.2,785.3 1085.1,787.2 1090.0,789.1 C1094.9,791.0 1099.7,792.9 1104.6,794.9 C1109.5,796.8 1114.3,798.8 1119.2,800.8 C1124.1,802.8 1128.9,804.8 1133.8,806.8 C1138.7,808.8 1143.6,810.8 1148.4,812.9 C1153.3,814.9 1158.2,816.9 1163.0,819.0 C1167.9,821.0 1172.8,823.1 1177.7,825.1 C1182.5,827.2 1187.4,829.2 1192.3,831.2 C1197.1,833.3 1202.0,835.3 1206.9,837.3 C1211.7,839.4 1216.6,841.4 1221.5,843.4 C1226.4,845.4 1231.2,847.4 1236.1,849.3 C1241.0,851.3 1245.8,853.2 1250.7,855.1 C1255.6,857.0 1260.5,858.9 1265.3,860.7 C1270.2,862.5 1275.1,864.3 1279.9,866.1 C1284.8,867.8 1289.7,869.5 1294.6,871.1 C1299.4,872.7 1304.3,874.3 1309.2,875.8 C1314.0,877.3 1318.9,878.8 1323.8,880.1 C1328.6,881.5 1333.5,882.7 1338.4,883.9 C1343.3,885.1 1348.1,886.2 1353.0,887.2 C1357.9,888.2 1362.7,889.2 1367.6,890.0 C1372.5,890.8 1377.4,891.5 1382.2,892.1 C1387.1,892.7 1392.0,893.2 1396.8,893.5 C1401.7,893.9 1406.6,894.2 1411.5,894.3 C1416.3,894.4 1421.2,894.4 1426.1,894.3 C1430.9,894.2 1435.8,893.9 1440.7,893.5 C1445.5,893.2 1450.4,892.6 1455.3,892.0 C1460.2,891.3 1465.0,890.5 1469.9,889.6 C1474.8,888.6 1479.6,887.5 1484.5,886.2 C1489.4,885.0 1494.3,883.6 1499.1,882.0 C1504.0,880.4 1508.9,878.6 1513.7,876.7 C1518.6,874.8 1523.5,872.7 1528.4,870.4 C1533.2,868.2 1538.1,865.7 1543.0,863.1 C1547.8,860.5 1552.7,857.6 1557.6,854.6 C1562.4,851.6 1567.3,848.4 1572.2,845.0 C1577.1,841.6 1584.4,836.0 1586.8,834.2 L1586.8,1021.1 C1584.4,1019.5 1577.1,1014.5 1572.2,1011.5 C1567.3,1008.4 1562.4,1005.6 1557.6,1003.0 C1552.7,1000.3 1547.8,997.9 1543.0,995.5 C1538.1,993.2 1533.2,991.1 1528.4,989.1 C1523.5,987.0 1518.6,985.2 1513.7,983.4 C1508.9,981.6 1504.0,980.0 1499.1,978.5 C1494.3,977.0 1489.4,975.6 1484.5,974.3 C1479.6,973.0 1474.8,971.7 1469.9,970.6 C1465.0,969.5 1460.2,968.4 1455.3,967.4 C1450.4,966.4 1445.5,965.5 1440.7,964.6 C1435.8,963.7 1430.9,962.8 1426.1,962.0 C1421.2,961.2 1416.3,960.4 1411.5,959.6 C1406.6,958.8 1401.7,958.1 1396.8,957.3 C1392.0,956.6 1387.1,955.8 1382.2,955.1 C1377.4,954.3 1372.5,953.5 1367.6,952.7 C1362.7,951.9 1357.9,951.1 1353.0,950.3 C1348.1,949.4 1343.3,948.6 1338.4,947.7 C1333.5,946.8 1328.6,945.8 1323.8,944.9 C1318.9,943.9 1314.0,942.9 1309.2,941.9 C1304.3,940.8 1299.4,939.8 1294.6,938.7 C1289.7,937.6 1284.8,936.4 1279.9,935.2 C1275.1,934.0 1270.2,932.8 1265.3,931.5 C1260.5,930.2 1255.6,928.9 1250.7,927.5 C1245.8,926.1 1241.0,924.6 1236.1,923.1 C1231.2,921.7 1226.4,920.1 1221.5,918.5 C1216.6,916.9 1211.7,915.2 1206.9,913.5 C1202.0,911.8 1197.1,910.0 1192.3,908.2 C1187.4,906.4 1182.5,904.6 1177.7,902.7 C1172.8,900.8 1167.9,898.9 1163.0,896.9 C1158.2,895.0 1153.3,893.0 1148.4,891.0 C1143.6,889.0 1138.7,887.0 1133.8,884.9 C1128.9,882.9 1124.1,880.8 1119.2,878.8 C1114.3,876.7 1109.5,874.6 1104.6,872.6 C1099.7,870.5 1094.9,868.4 1090.0,866.4 C1085.1,864.3 1080.2,862.2 1075.4,860.2 C1070.5,858.2 1065.6,856.1 1060.8,854.1 C1055.9,852.1 1051.0,850.1 1046.1,848.1 C1041.3,846.2 1036.4,844.2 1031.5,842.3 C1026.7,840.4 1021.8,838.6 1016.9,836.7 C1012.0,834.9 1007.2,833.1 1002.3,831.3 C997.4,829.6 992.6,827.8 987.7,826.1 C982.8,824.5 978.0,822.8 973.1,821.2 C968.2,819.6 963.3,818.0 958.5,816.5 C953.6,815.0 948.7,813.5 943.9,812.1 C939.0,810.7 934.1,809.3 929.2,807.9 C924.4,806.6 919.5,805.3 914.6,804.1 C909.8,802.8 904.9,801.6 900.0,800.5 C895.1,799.3 890.3,798.2 885.4,797.2 C880.5,796.1 875.7,795.1 870.8,794.1 C865.9,793.2 861.1,792.2 856.2,791.3 C851.3,790.4 846.4,789.6 841.6,788.8 C836.7,788.0 831.8,787.2 827.0,786.5 C822.1,785.7 817.2,785.0 812.3,784.3 C807.5,783.7 802.6,783.0 797.7,782.4 C792.9,781.8 788.0,781.3 783.1,780.7 C778.2,780.2 773.4,779.7 768.5,779.2 C763.6,778.7 758.8,778.3 753.9,777.9 C749.0,777.5 744.2,777.1 739.3,776.7 C734.4,776.4 729.5,776.1 724.7,775.8 C719.8,775.5 714.9,775.2 710.1,775.0 C705.2,774.8 700.3,774.6 695.4,774.5 C690.6,774.3 685.7,774.2 680.8,774.1 C676.0,774.0 671.1,774.0 666.2,773.9 C661.4,773.9 656.5,773.9 651.6,774.0 C646.7,774.0 641.9,774.1 637.0,774.2 C632.1,774.3 627.3,774.5 622.4,774.6 C617.5,774.8 612.6,775.1 607.8,775.3 C602.9,775.6 598.0,775.9 593.2,776.2 C588.3,776.6 583.4,776.9 578.5,777.4 C573.7,777.8 568.8,778.3 563.9,778.8 C559.1,779.3 554.2,779.9 549.3,780.5 C544.5,781.2 539.6,781.8 534.7,782.6 C529.8,783.3 525.0,784.1 520.1,784.9 C515.2,785.7 510.4,786.6 505.5,787.6 C500.6,788.5 495.7,789.5 490.9,790.6 C486.0,791.7 481.1,792.8 476.3,794.0 C471.4,795.2 466.5,796.4 461.6,797.7 C456.8,799.0 451.9,800.4 447.0,801.9 C442.2,803.4 437.3,805.0 432.4,806.6 C427.6,808.2 422.7,809.8 417.8,811.5 C412.9,813.1 408.1,814.8 403.2,816.5 C398.3,818.2 393.5,820.0 388.6,821.7 C383.7,823.5 378.8,825.2 374.0,827.0 C369.1,828.8 364.2,830.6 359.4,832.5 C354.5,834.3 349.6,836.2 344.7,838.1 C339.9,840.0 335.0,842.0 330.1,843.9 C325.3,845.9 320.4,847.9 315.5,849.9 C310.7,852.0 305.8,854.0 300.9,856.1 C296.0,858.2 288.7,861.4 286.3,862.5 Z" fill="#A09F9C" fill-opacity="0.4"/>
<path d="M286.3,745.0 C288.7,744.9 296.0,744.6 300.9,744.4 C305.8,744.2 310.7,744.0 315.5,743.8 C320.4,743.6 325.3,743.4 330.1,743.1 C335.0,742.9 339.9,742.7 344.7,742.5 C349.6,742.3 354.5,742.1 359.4,741.9 C364.2,741.7 369.1,741.4 374.0,741.2 C378.8,741.0 383.7,740.8 388.6,740.6 C393.5,740.4 398.3,740.2 403.2,740.0 C408.1,739.8 412.9,739.7 417.8,739.5 C422.7,739.3 427.6,739.1 432.4,738.9 C437.3,738.8 442.2,738.6 447.0,738.4 C451.9,738.3 456.8,738.1 461.6,738.0 C466.5,737.8 471.4,737.7 476.3,737.5 C481.1,737.4 486.0,737.3 490.9,737.2 C495.7,737.0 500.6,736.9 505.5,736.8 C510.4,736.7 515.2,736.7 520.1,736.6 C525.0,736.5 529.8,736.4 534.7,736.4 C539.6,736.3 544.5,736.3 549.3,736.3 C554.2,736.2 559.1,736.2 563.9,736.2 C568.8,736.2 573.7,736.2 578.5,736.2 C583.4,736.2 588.3,736.3 593.2,736.3 C598.0,736.4 602.9,736.5 607.8,736.5 C612.6,736.6 617.5,736.7 622.4,736.8 C627.3,736.9 632.1,737.1 637.0,737.2 C641.9,737.4 646.7,737.5 651.6,737.7 C656.5,737.9 661.4,738.1 666.2,738.3 C671.1,738.5 676.0,738.8 680.8,739.0 C685.7,739.3 690.6,739.6 695.4,739.9 C700.3,740.2 705.2,740.5 710.1,740.8 C714.9,741.2 719.8,741.5 724.7,741.9 C729.5,742.3 734.4,742.7 739.3,743.2 C744.2,743.6 749.0,744.0 753.9,744.5 C758.8,745.0 763.6,745.5 768.5,746.0 C773.4,746.6 778.2,747.1 783.1,747.7 C788.0,748.3 792.9,748.9 797.7,749.5 C802.6,750.1 807.5,750.8 812.3,751.5 C817.2,752.2 822.1,752.9 827.0,753.6 C831.8,754.4 836.7,755.1 841.6,755.9 C846.4,756.7 851.3,757.5 856.2,758.4 C861.1,759.3 865.9,760.1 870.8,761.1 C875.7,762.0 880.5,762.9 885.4,763.9 C890.3,764.9 895.1,765.9 900.0,766.9 C904.9,768.0 909.8,769.1 914.6,770.2 C919.5,771.3 924.4,772.4 929.2,773.6 C934.1,774.8 939.0,776.0 943.9,777.2 C948.7,778.5 953.6,779.7 958.5,781.1 C963.3,782.4 968.2,783.7 973.1,785.1 C978.0,786.5 982.8,787.9 987.7,789.4 C992.6,790.9 997.4,792.4 1002.3,793.9 C1007.2,795.4 1012.0,797.0 1016.9,798.6 C1021.8,800.2 1026.7,801.9 1031.5,803.6 C1036.4,805.3 1041.3,807.0 1046.1,808.8 C1051.0,810.6 1055.9,812.4 1060.8,814.2 C1065.6,816.1 1070.5,817.9 1075.4,819.8 C1080.2,821.7 1085.1,823.7 1090.0,825.6 C1094.9,827.6 1099.7,829.6 1104.6,831.6 C1109.5,833.5 1114.3,835.6 1119.2,837.6 C1124.1,839.6 1128.9,841.6 1133.8,843.7 C1138.7,845.7 1143.6,847.7 1148.4,849.8 C1153.3,851.8 1158.2,853.9 1163.0,855.9 C1167.9,857.9 1172.8,860.0 1177.7,862.0 C1182.5,864.0 1187.4,866.0 1192.3,868.0 C1197.1,870.0 1202.0,872.0 1206.9,873.9 C1211.7,875.9 1216.6,877.8 1221.5,879.7 C1226.4,881.6 1231.2,883.5 1236.1,885.3 C1241.0,887.2 1245.8,889.0 1250.7,890.8 C1255.6,892.5 1260.5,894.3 1265.3,896.0 C1270.2,897.7 1275.1,899.3 1279.9,900.9 C1284.8,902.5 1289.7,904.1 1294.6,905.5 C1299.4,907.0 1304.3,908.5 1309.2,909.9 C1314.0,911.2 1318.9,912.6 1323.8,913.8 C1328.6,915.1 1333.5,916.3 1338.4,917.4 C1343.3,918.5 1348.1,919.6 1353.0,920.5 C1357.9,921.5 1362.7,922.4 1367.6,923.2 C1372.5,924.0 1377.4,924.8 1382.2,925.4 C1387.1,926.1 1392.0,926.7 1396.8,927.2 C1401.7,927.7 1406.6,928.1 1411.5,928.5 C1416.3,928.9 1421.2,929.2 1426.1,929.5 C1430.9,929.8 1435.8,930.0 1440.7,930.2 C1445.5,930.4 1450.4,930.5 1455.3,930.6 C1460.2,930.7 1465.0,930.7 1469.9,930.7 C1474.8,930.7 1479.6,930.7 1484.5,930.7 C1489.4,930.6 1494.3,930.6 1499.1,930.5 C1504.0,930.4 1508.9,930.3 1513.7,930.2 C1518.6,930.1 1523.5,930.0 1528.4,929.8 C1533.2,929.7 1538.1,929.6 1543.0,929.5 C1547.8,929.3 1552.7,929.2 1557.6,929.1 C1562.4,929.0 1567.3,928.9 1572.2,928.8 C1577.1,928.8 1584.4,928.7 1586.8,928.7" fill="none" stroke="#5F6E7E" stroke-width="4.2" stroke-linecap="butt"/>
<line x1="921.0" y1="629.2" x2="959.2" y2="663.0" stroke="#D08A18" stroke-width="1.1"/>
<line x1="950.0" y1="623.7" x2="973.7" y2="661.7" stroke="#449C1A" stroke-width="1.1"/>
<line x1="993.0" y1="663.5" x2="1004.6" y2="671.5" stroke="#C84095" stroke-width="1.1"/>
<line x1="611.3" y1="657.0" x2="603.7" y2="683.5" stroke="#069F1A" stroke-width="1.1"/>
<line x1="846.2" y1="665.8" x2="904.6" y2="775.8" stroke="#82A428" stroke-width="1.1"/>
<line x1="703.9" y1="683.8" x2="735.6" y2="695.8" stroke="#B7921C" stroke-width="1.1"/>
<line x1="873.5" y1="695.2" x2="915.0" y2="749.0" stroke="#12A15F" stroke-width="1.1"/>
<line x1="947.2" y1="723.4" x2="954.6" y2="738.1" stroke="#E14861" stroke-width="1.1"/>
<line x1="493.0" y1="753.0" x2="554.1" y2="801.8" stroke="#7FA52A" stroke-width="1.1"/>
<line x1="360.7" y1="762.2" x2="415.1" y2="760.0" stroke="#B5971F" stroke-width="1.1"/>
<line x1="577.1" y1="814.3" x2="593.0" y2="795.2" stroke="#2A9D1A" stroke-width="1.1"/>
<line x1="511.5" y1="849.3" x2="536.1" y2="839.2" stroke="#D48415" stroke-width="1.1"/>
<line x1="618.3" y1="835.2" x2="640.8" y2="818.5" stroke="#AD48A2" stroke-width="1.1"/>
<line x1="617.1" y1="903.1" x2="629.5" y2="867.8" stroke="#DC4482" stroke-width="1.1"/>
<line x1="633.0" y1="943.5" x2="672.8" y2="915.9" stroke="#E0487A" stroke-width="1.1"/>
<line x1="659.7" y1="778.5" x2="686.4" y2="792.2" stroke="#DE5C29" stroke-width="1.1"/>
<line x1="661.6" y1="880.3" x2="652.4" y2="853.7" stroke="#845DB0" stroke-width="1.1"/>
<line x1="1046.0" y1="725.0" x2="1028.2" y2="747.7" stroke="#5466B7" stroke-width="1.1"/>
<line x1="939.6" y1="779.7" x2="929.5" y2="826.5" stroke="#989613" stroke-width="1.1"/>
<line x1="837.3" y1="800.3" x2="836.7" y2="783.2" stroke="#BD921B" stroke-width="1.1"/>
<line x1="1010.0" y1="800.0" x2="1064.9" y2="825.3" stroke="#A09615" stroke-width="1.1"/>
<line x1="1016.9" y1="743.4" x2="1060.6" y2="789.0" stroke="#CD901B" stroke-width="1.1"/>
<line x1="1070.3" y1="752.1" x2="1068.3" y2="769.6" stroke="#12A364" stroke-width="1.1"/>
<line x1="1027.2" y1="780.3" x2="1026.2" y2="808.8" stroke="#039E1A" stroke-width="1.1"/>
<line x1="1107.8" y1="785.7" x2="1069.9" y2="817.6" stroke="#359C1A" stroke-width="1.1"/>
<line x1="1126.6" y1="812.9" x2="1187.8" y2="871.6" stroke="#CF8C19" stroke-width="1.1"/>
<line x1="953.4" y1="834.7" x2="980.6" y2="845.0" stroke="#D58214" stroke-width="1.1"/>
<line x1="1116.3" y1="853.7" x2="1161.6" y2="882.8" stroke="#E04C3C" stroke-width="1.1"/>
<line x1="1036.7" y1="863.4" x2="1056.7" y2="874.9" stroke="#1AA2CB" stroke-width="1.1"/>
<line x1="871.3" y1="889.4" x2="895.5" y2="891.4" stroke="#109F28" stroke-width="1.1"/>
<line x1="1004.3" y1="889.0" x2="1041.7" y2="884.2" stroke="#CE8E1A" stroke-width="1.1"/>
<line x1="1058.6" y1="889.6" x2="1078.1" y2="894.0" stroke="#5762B4" stroke-width="1.1"/>
<line x1="1002.0" y1="688.2" x2="1024.7" y2="697.2" stroke="#BE4299" stroke-width="1.1"/>
<line x1="1113.0" y1="715.2" x2="1079.0" y2="757.6" stroke="#13A46D" stroke-width="1.1"/>
<line x1="1196.1" y1="716.8" x2="1165.8" y2="762.2" stroke="#4C6FBF" stroke-width="1.1"/>
<line x1="1294.2" y1="719.1" x2="1248.5" y2="815.8" stroke="#DA770C" stroke-width="1.1"/>
<line x1="1160.2" y1="742.8" x2="1149.9" y2="796.2" stroke="#939919" stroke-width="1.1"/>
<line x1="1355.7" y1="734.7" x2="1287.2" y2="803.0" stroke="#2A7ECA" stroke-width="1.1"/>
<line x1="1203.7" y1="770.2" x2="1189.7" y2="785.7" stroke="#A79719" stroke-width="1.1"/>
<line x1="1294.6" y1="772.5" x2="1244.1" y2="828.4" stroke="#1D84CF" stroke-width="1.1"/>
<line x1="1390.3" y1="772.5" x2="1356.1" y2="826.9" stroke="#CC921C" stroke-width="1.1"/>
<line x1="1250.9" y1="799.1" x2="1236.9" y2="838.5" stroke="#D87C11" stroke-width="1.1"/>
<line x1="1322.7" y1="801.3" x2="1279.0" y2="837.2" stroke="#B4449C" stroke-width="1.1"/>
<line x1="1254.8" y1="823.0" x2="1232.0" y2="855.0" stroke="#655EB1" stroke-width="1.1"/>
<line x1="1383.0" y1="829.0" x2="1346.4" y2="887.7" stroke="#DA7407" stroke-width="1.1"/>
<line x1="1374.0" y1="791.0" x2="1365.4" y2="865.3" stroke="#9A56AB" stroke-width="1.1"/>
<line x1="1277.1" y1="858.9" x2="1277.1" y2="883.2" stroke="#C9941D" stroke-width="1.1"/>
<line x1="1342.1" y1="858.9" x2="1321.7" y2="876.8" stroke="#12A031" stroke-width="1.1"/>
<line x1="1154.8" y1="858.9" x2="1197.5" y2="891.0" stroke="#24ADC1" stroke-width="1.1"/>
<line x1="1285.2" y1="886.5" x2="1278.4" y2="921.5" stroke="#D64089" stroke-width="1.1"/>
<line x1="1150.9" y1="883.2" x2="1173.2" y2="897.8" stroke="#DA4186" stroke-width="1.1"/>
<line x1="1374.6" y1="895.2" x2="1359.4" y2="906.9" stroke="#605EB0" stroke-width="1.1"/>
<line x1="1148.3" y1="688.0" x2="1115.9" y2="741.9" stroke="#D94188" stroke-width="1.1"/>
<line x1="1444.1" y1="735.6" x2="1420.2" y2="732.3" stroke="#DC6A00" stroke-width="1.1"/>
<line x1="1491.7" y1="769.6" x2="1437.7" y2="824.6" stroke="#D68013" stroke-width="1.1"/>
<line x1="1521.2" y1="810.8" x2="1480.4" y2="860.3" stroke="#11A15A" stroke-width="1.1"/>
<line x1="1444.1" y1="831.7" x2="1386.2" y2="912.3" stroke="#139F38" stroke-width="1.1"/>
<line x1="1518.3" y1="828.8" x2="1477.1" y2="884.8" stroke="#CA3F93" stroke-width="1.1"/>
<line x1="1394.0" y1="848.8" x2="1347.8" y2="898.5" stroke="#14A67A" stroke-width="1.1"/>
<line x1="1501.4" y1="869.6" x2="1475.5" y2="895.8" stroke="#13A472" stroke-width="1.1"/>
<line x1="1585.4" y1="856.0" x2="1495.2" y2="898.3" stroke="#21AAC5" stroke-width="1.1"/>
<line x1="1576.5" y1="884.2" x2="1499.1" y2="896.9" stroke="#C24098" stroke-width="1.1"/>
<line x1="1672.5" y1="882.9" x2="1503.4" y2="899.8" stroke="#0E8DD7" stroke-width="1.1"/>
<line x1="1088.2" y1="625.4" x2="1073.0" y2="640.0" stroke="#DF5138" stroke-width="1.1"/>
<line x1="1100.2" y1="660.4" x2="1090.5" y2="683.3" stroke="#8B9E21" stroke-width="1.1"/>
<line x1="1133.4" y1="629.7" x2="1117.7" y2="679.4" stroke="#14A67F" stroke-width="1.1"/>
<line x1="1170.7" y1="680.8" x2="1144.1" y2="699.8" stroke="#13A368" stroke-width="1.1"/>
<line x1="1265.8" y1="651.1" x2="1237.3" y2="694.8" stroke="#559B1A" stroke-width="1.1"/>
<line x1="1314.8" y1="674.0" x2="1252.6" y2="684.3" stroke="#875DB0" stroke-width="1.1"/>
<line x1="1476.0" y1="912.0" x2="1378.2" y2="920.8" stroke="#E14872" stroke-width="1.1"/>
<line x1="1703.0" y1="910.9" x2="1518.2" y2="905.2" stroke="#6DA022" stroke-width="1.1"/>
<line x1="1638.9" y1="939.6" x2="1499.7" y2="923.1" stroke="#735DB1" stroke-width="1.1"/>
<line x1="1610.8" y1="938.6" x2="1530.2" y2="928.9" stroke="#0E9F1D" stroke-width="1.1"/>
<line x1="1574.9" y1="966.4" x2="1428.3" y2="945.4" stroke="#13A997" stroke-width="1.1"/>
<line x1="1578.7" y1="961.9" x2="1404.6" y2="944.6" stroke="#DF467D" stroke-width="1.1"/>
<line x1="1596.2" y1="994.0" x2="1540.5" y2="978.1" stroke="#0B97D4" stroke-width="1.1"/>
<line x1="1672.9" y1="1013.4" x2="1587.1" y2="983.7" stroke="#C54096" stroke-width="1.1"/>
<line x1="1511.7" y1="994.4" x2="1474.3" y2="988.7" stroke="#B6951D" stroke-width="1.1"/>
<line x1="1529.2" y1="1021.7" x2="1467.2" y2="1003.6" stroke="#DF592E" stroke-width="1.1"/>
<line x1="1564.2" y1="1049.9" x2="1502.6" y2="1024.1" stroke="#955AAD" stroke-width="1.1"/>
<line x1="1472.2" y1="1044.4" x2="1449.5" y2="1029.4" stroke="#009E1A" stroke-width="1.1"/>
<line x1="1340.6" y1="924.4" x2="1357.1" y2="936.0" stroke="#A94BA4" stroke-width="1.1"/>
<line x1="1462.9" y1="970.0" x2="1421.2" y2="984.2" stroke="#1C9D1A" stroke-width="1.1"/>
<line x1="1264.9" y1="1026.3" x2="1307.6" y2="990.0" stroke="#D87F12" stroke-width="1.1"/>
<line x1="1367.8" y1="1014.7" x2="1352.8" y2="998.2" stroke="#805DB1" stroke-width="1.1"/>
<line x1="1223.1" y1="1055.4" x2="1263.5" y2="1017.0" stroke="#DD4480" stroke-width="1.1"/>
<line x1="1321.2" y1="1041.8" x2="1297.5" y2="1015.6" stroke="#969817" stroke-width="1.1"/>
<line x1="1423.1" y1="1041.8" x2="1394.6" y2="1005.0" stroke="#11A9A3" stroke-width="1.1"/>
<line x1="1135.9" y1="998.3" x2="1152.0" y2="989.1" stroke="#B7439C" stroke-width="1.1"/>
<line x1="1172.2" y1="1028.3" x2="1210.1" y2="997.3" stroke="#785DB1" stroke-width="1.1"/>
<line x1="1120.4" y1="1115.3" x2="1193.8" y2="1012.0" stroke="#DF5433" stroke-width="1.1"/>
<line x1="1123.3" y1="1053.2" x2="1139.4" y2="1039.6" stroke="#DB7002" stroke-width="1.1"/>
<line x1="1159.8" y1="1080.4" x2="1196.5" y2="1033.8" stroke="#13A88B" stroke-width="1.1"/>
<line x1="1264.7" y1="1067.8" x2="1283.1" y2="1008.0" stroke="#1F81CD" stroke-width="1.1"/>
<line x1="1238.3" y1="1096.9" x2="1250.5" y2="1044.1" stroke="#4178C5" stroke-width="1.1"/>
<line x1="1311.7" y1="1095.0" x2="1283.5" y2="1033.8" stroke="#AD991C" stroke-width="1.1"/>
<line x1="1363.1" y1="1096.9" x2="1343.7" y2="1081.4" stroke="#17A045" stroke-width="1.1"/>
<line x1="1354.4" y1="1077.5" x2="1319.4" y2="1001.7" stroke="#11A055" stroke-width="1.1"/>
<line x1="808.7" y1="915.5" x2="818.4" y2="893.2" stroke="#13A88E" stroke-width="1.1"/>
<line x1="1062.1" y1="914.6" x2="1075.3" y2="896.5" stroke="#4A9B1A" stroke-width="1.1"/>
<line x1="910.7" y1="913.4" x2="917.1" y2="889.3" stroke="#DB4383" stroke-width="1.1"/>
<line x1="885.4" y1="955.7" x2="912.6" y2="893.2" stroke="#139CCF" stroke-width="1.1"/>
<line x1="909.7" y1="982.9" x2="937.9" y2="906.2" stroke="#0D98D3" stroke-width="1.1"/>
<line x1="991.8" y1="911.7" x2="994.2" y2="893.6" stroke="#0991D8" stroke-width="1.1"/>
<line x1="939.8" y1="945.0" x2="1008.7" y2="914.6" stroke="#0A8FD7" stroke-width="1.1"/>
<line x1="931.7" y1="997.5" x2="948.9" y2="955.3" stroke="#925CAE" stroke-width="1.1"/>
<line x1="1060.2" y1="973.8" x2="1102.3" y2="964.9" stroke="#009D1A" stroke-width="1.1"/>
<line x1="1043.7" y1="1001.4" x2="1123.5" y2="961.2" stroke="#D43F8D" stroke-width="1.1"/>
<line x1="954.4" y1="1023.7" x2="968.9" y2="1009.1" stroke="#12A99A" stroke-width="1.1"/>
<line x1="1058.3" y1="1030.5" x2="1115.5" y2="1009.7" stroke="#DB4285" stroke-width="1.1"/>
<line x1="945.6" y1="1054.8" x2="992.8" y2="1003.7" stroke="#0B96D5" stroke-width="1.1"/>
<line x1="1054.4" y1="1056.7" x2="1152.8" y2="998.8" stroke="#DD6606" stroke-width="1.1"/>
<line x1="1006.2" y1="1083.9" x2="1078.6" y2="1055.7" stroke="#E0486A" stroke-width="1.1"/>
<line x1="715.5" y1="917.3" x2="722.7" y2="892.0" stroke="#E04766" stroke-width="1.1"/>
<line x1="687.4" y1="945.4" x2="724.3" y2="881.3" stroke="#E04748" stroke-width="1.1"/>
<line x1="1519.8" y1="1078.3" x2="1470.9" y2="1045.7" stroke="#14A782" stroke-width="1.1"/>
<line x1="1468.3" y1="1069.6" x2="1416.9" y2="1011.7" stroke="#A74DA5" stroke-width="1.1"/>
<line x1="1481.4" y1="1095.8" x2="1442.1" y2="1031.7" stroke="#AB4AA3" stroke-width="1.1"/>
<line x1="1536.9" y1="1104.6" x2="1384.9" y2="965.5" stroke="#6A5EB1" stroke-width="1.1"/>
<g class="lb">
<text x="782.7" y="88.6" fill="#10A050" stroke="#10A050">Honduras</text>
<text x="633.9" y="341.9" fill="#12A050" stroke="#12A050">Haiti</text>
<text x="920.7" y="351.7" fill="#8E5EAE" stroke="#8E5EAE">Saint Vincent and the Grenadines</text>
<text x="845.7" y="442.0" fill="#3D9C1A" stroke="#3D9C1A">El Salvador</text>
<text x="827.4" y="471.1" fill="#19A04A" stroke="#19A04A">Guatemala</text>
<text x="686.6" y="513.3" fill="#D97A10" stroke="#D97A10">Bangladesh</text>
<text x="1063.0" y="497.0" fill="#8B5EAF" stroke="#8B5EAF">Saint Lucia</text>
<text x="600.0" y="519.1" fill="#0A8ED8" stroke="#0A8ED8">Nepal</text>
<text x="669.1" y="551.9" fill="#D28817" stroke="#D28817">Bhutan</text>
<text x="615.0" y="579.2" fill="#E04858" stroke="#E04858">Yemen</text>
<text x="721.8" y="607.3" fill="#3A7CC8" stroke="#3A7CC8">Pakistan</text>
<text x="679.5" y="633.3" fill="#D08A18" stroke="#D08A18">Bolivia (Plurinational State of)</text>
<text x="893.0" y="554.6" fill="#509A1A" stroke="#509A1A">Dominican Republic</text>
<text x="924.4" y="619.3" fill="#449C1A" stroke="#449C1A">Egypt</text>
<text x="895.6" y="651.0" fill="#C84095" stroke="#C84095">Syrian Arab Republic</text>
<text x="615.1" y="659.7" fill="#069F1A" stroke="#069F1A">Gambia</text>
<text x="686.0" y="661.7" fill="#82A428" stroke="#82A428">Democratic People's Republic of Korea</text>
<text x="615.1" y="688.4" fill="#B7921C" stroke="#B7921C">Cameroon</text>
<text x="714.2" y="686.2" fill="#E04851" stroke="#E04851">Zambia</text>
<text x="851.0" y="691.2" fill="#12A15F" stroke="#12A15F">India</text>
<text x="809.8" y="718.5" fill="#E14861" stroke="#E14861">Venezuela (Bolivarian Republic of)</text>
<text x="629.8" y="717.1" fill="#D13E8F" stroke="#D13E8F">Timor−Leste</text>
<text x="291.8" y="556.0" fill="#C8961E" stroke="#C8961E">Burkina Faso</text>
<text x="282.0" y="640.6" fill="#B39A20" stroke="#B39A20">Chad</text>
<text x="404.4" y="635.2" fill="#E04840" stroke="#E04840">Afghanistan</text>
<text x="338.8" y="665.2" fill="#0993D7" stroke="#0993D7">Mozambique</text>
<text x="477.3" y="662.5" fill="#17A150" stroke="#17A150">Guinea−Bissau</text>
<text x="393.4" y="693.1" fill="#1AA050" stroke="#1AA050">Guinea</text>
<text x="430.5" y="719.8" fill="#25AFBF" stroke="#25AFBF">Liberia</text>
<text x="500.4" y="710.3" fill="#1FA7C6" stroke="#1FA7C6">Madagascar</text>
<text x="313.6" y="748.5" fill="#7FA52A" stroke="#7FA52A">Democratic Republic of the Congo</text>
<text x="162.4" y="768.2" fill="#B5971F" stroke="#B5971F">Central African Republic</text>
<text x="519.2" y="778.5" fill="#9D54AB" stroke="#9D54AB">Senegal</text>
<text x="345.0" y="796.9" fill="#18A0CD" stroke="#18A0CD">Mali</text>
<text x="242.5" y="828.3" fill="#B0459E" stroke="#B0459E">South Sudan</text>
<text x="369.3" y="859.7" fill="#C3941D" stroke="#C3941D">Burundi</text>
<text x="436.5" y="800.4" fill="#009E1A" stroke="#009E1A">Ethiopia</text>
<text x="394.6" y="829.6" fill="#A54FA7" stroke="#A54FA7">Sierra Leone</text>
<text x="519.7" y="824.0" fill="#2A9D1A" stroke="#2A9D1A">Eritrea</text>
<text x="460.8" y="857.0" fill="#D48415" stroke="#D48415">Benin</text>
<text x="522.3" y="851.2" fill="#AD48A2" stroke="#AD48A2">Solomon Islands</text>
<text x="551.8" y="884.2" fill="#1EA6C7" stroke="#1EA6C7">Malawi</text>
<text x="550.1" y="912.0" fill="#DC4482" stroke="#DC4482">Uganda</text>
<text x="404.4" y="950.9" fill="#E0487A" stroke="#E0487A">United Republic of Tanzania</text>
<text x="504.3" y="988.7" fill="#506BBB" stroke="#506BBB">Papua New Guinea</text>
<text x="617.9" y="774.4" fill="#9858AC" stroke="#9858AC">Sao Tome and Principe</text>
<text x="600.1" y="781.3" fill="#DE5C29" stroke="#DE5C29">Angola</text>
<text x="845.9" y="782.6" fill="#BA429A" stroke="#BA429A">Sudan</text>
<text x="754.6" y="719.1" fill="#1589D5" stroke="#1589D5">Nicaragua</text>
<text x="616.8" y="747.3" fill="#12AA9F" stroke="#12AA9F">Lao People's Democratic Republic</text>
<text x="522.8" y="743.4" fill="#919B1C" stroke="#919B1C">Côte d'Ivoire</text>
<text x="589.3" y="817.2" fill="#D33F8E" stroke="#D33F8E">Togo</text>
<text x="643.2" y="808.4" fill="#B8901A" stroke="#B8901A">Cambodia</text>
<text x="743.5" y="802.6" fill="#109AD0" stroke="#109AD0">Mauritania</text>
<text x="734.6" y="836.4" fill="#5A9A1A" stroke="#5A9A1A">Djibouti</text>
<text x="628.0" y="895.8" fill="#845DB0" stroke="#845DB0">Rwanda</text>
<text x="667.1" y="868.8" fill="#9A9410" stroke="#9A9410">Comoros</text>
<text x="754.6" y="867.1" fill="#10AAAA" stroke="#10AAAA">Lesotho</text>
<text x="731.8" y="904.7" fill="#1887D3" stroke="#1887D3">Nigeria</text>
<text x="1010.5" y="719.1" fill="#5466B7" stroke="#5466B7">Paraguay</text>
<text x="830.0" y="746.3" fill="#0992D7" stroke="#0992D7">Myanmar</text>
<text x="912.7" y="775.4" fill="#989613" stroke="#989613">Congo</text>
<text x="841.2" y="810.4" fill="#BD921B" stroke="#BD921B">Cabo Verde</text>
<text x="936.8" y="803.6" fill="#A09615" stroke="#A09615">Colombia</text>
<text x="967.2" y="747.7" fill="#CD901B" stroke="#CD901B">Brazil</text>
<text x="1029.8" y="747.3" fill="#12A364" stroke="#12A364">Indonesia</text>
<text x="999.9" y="775.4" fill="#039E1A" stroke="#039E1A">Gabon</text>
<text x="1055.2" y="781.0" fill="#359C1A" stroke="#359C1A">Equatorial Guinea</text>
<text x="1003.4" y="808.0" fill="#CF8C19" stroke="#CF8C19">Bosnia and Herzegovina</text>
<text x="964.0" y="830.8" fill="#E0475D" stroke="#E0475D">Viet Nam</text>
<text x="810.2" y="838.5" fill="#0994D6" stroke="#0994D6">Morocco</text>
<text x="899.9" y="838.5" fill="#D58214" stroke="#D58214">Belize</text>
<text x="1051.8" y="857.2" fill="#E04C3C" stroke="#E04C3C">Albania</text>
<text x="851.3" y="866.7" fill="#039D1A" stroke="#039D1A">Eswatini</text>
<text x="961.0" y="866.7" fill="#1AA2CB" stroke="#1AA2CB">Maldives</text>
<text x="813.1" y="894.9" fill="#109F28" stroke="#109F28">Ghana</text>
<text x="920.8" y="894.9" fill="#CE8E1A" stroke="#CE8E1A">Botswana</text>
<text x="1016.9" y="894.9" fill="#5762B4" stroke="#5762B4">Peru</text>
<text x="921.6" y="691.2" fill="#BE4299" stroke="#BE4299">Suriname</text>
<text x="1098.3" y="710.4" fill="#13A46D" stroke="#13A46D">Iraq</text>
<text x="1165.3" y="711.4" fill="#4C6FBF" stroke="#4C6FBF">Panama</text>
<text x="1264.3" y="713.7" fill="#DA770C" stroke="#DA770C">Bahrain</text>
<text x="1350.3" y="709.4" fill="#169FCD" stroke="#169FCD">Malta</text>
<text x="1115.6" y="738.2" fill="#939919" stroke="#939919">Costa Rica</text>
<text x="1182.3" y="741.5" fill="#DD5F21" stroke="#DD5F21">Antigua and Barbuda</text>
<text x="1359.7" y="738.5" fill="#2A7ECA" stroke="#2A7ECA">Oman</text>
<text x="1183.4" y="766.3" fill="#A79719" stroke="#A79719">China</text>
<text x="1236.8" y="767.7" fill="#1D84CF" stroke="#1D84CF">North Macedonia</text>
<text x="1315.8" y="767.7" fill="#CC921C" stroke="#CC921C">Brunei Darussalam</text>
<text x="1212.1" y="794.9" fill="#D87C11" stroke="#D87C11">Barbados</text>
<text x="1171.3" y="822.0" fill="#0A9F1A" stroke="#0A9F1A">Georgia</text>
<text x="1305.0" y="795.8" fill="#B4449C" stroke="#B4449C">Spain</text>
<text x="1258.1" y="825.3" fill="#655EB1" stroke="#655EB1">Portugal</text>
<text x="1347.4" y="824.0" fill="#DA7407" stroke="#DA7407">Bahamas</text>
<text x="1378.2" y="795.8" fill="#9A56AB" stroke="#9A56AB">Saudi Arabia</text>
<text x="1243.2" y="853.7" fill="#C9941D" stroke="#C9941D">Bulgaria</text>
<text x="1323.4" y="853.7" fill="#12A031" stroke="#12A031">Greece</text>
<text x="1128.6" y="854.1" fill="#24ADC1" stroke="#24ADC1">Libya</text>
<text x="1161.0" y="881.3" fill="#1CA4C9" stroke="#1CA4C9">Malaysia</text>
<text x="1203.9" y="881.3" fill="#D64089" stroke="#D64089">Trinidad and Tobago</text>
<text x="1090.3" y="884.8" fill="#DA4186" stroke="#DA4186">Türkiye</text>
<text x="1360.5" y="890.4" fill="#605EB0" stroke="#605EB0">Poland</text>
<text x="1124.3" y="683.3" fill="#D94188" stroke="#D94188">Tunisia</text>
<text x="1423.2" y="712.9" fill="#128BD5" stroke="#128BD5">New Zealand</text>
<text x="1448.3" y="741.5" fill="#DC6A00" stroke="#DC6A00">Australia</text>
<text x="1494.6" y="774.5" fill="#D68013" stroke="#D68013">Belgium</text>
<text x="1495.2" y="806.1" fill="#11A15A" stroke="#11A15A">Iceland</text>
<text x="1447.4" y="835.6" fill="#139F38" stroke="#139F38">Greenland</text>
<text x="1522.3" y="831.7" fill="#CA3F93" stroke="#CA3F93">Taiwan (Province of China)</text>
<text x="1396.4" y="853.1" fill="#14A67A" stroke="#14A67A">Italy</text>
<text x="1430.9" y="880.3" fill="#DC6D00" stroke="#DC6D00">Austria</text>
<text x="1504.5" y="872.5" fill="#13A472" stroke="#13A472">Ireland</text>
<text x="1588.6" y="860.9" fill="#21AAC5" stroke="#21AAC5">Luxembourg</text>
<text x="1580.4" y="889.0" fill="#C24098" stroke="#C24098">Sweden</text>
<text x="1675.7" y="888.8" fill="#0E8DD7" stroke="#0E8DD7">Netherlands</text>
<text x="1006.5" y="587.6" fill="#4773C2" stroke="#4773C2">Palestine</text>
<text x="1079.9" y="557.9" fill="#15A03F" stroke="#15A03F">Grenada</text>
<text x="986.3" y="621.6" fill="#15A050" stroke="#15A050">Guyana</text>
<text x="1064.9" y="622.5" fill="#DF5138" stroke="#DF5138">Algeria</text>
<text x="1078.5" y="655.5" fill="#8B9E21" stroke="#8B9E21">Cuba</text>
<text x="1137.4" y="633.2" fill="#14A67F" stroke="#14A67F">Jamaica</text>
<text x="1015.2" y="684.7" fill="#0E99D2" stroke="#0E99D2">Mexico</text>
<text x="1126.8" y="674.0" fill="#13A368" stroke="#13A368">Iran (Islamic Republic of)</text>
<text x="1230.0" y="646.4" fill="#559B1A" stroke="#559B1A">Dominica</text>
<text x="1303.2" y="583.7" fill="#0A95D6" stroke="#0A95D6">Montenegro</text>
<text x="1399.3" y="636.1" fill="#88A023" stroke="#88A023">Cyprus</text>
<text x="1314.5" y="679.4" fill="#875DB0" stroke="#875DB0">Saint Kitts and Nevis</text>
<text x="1478.3" y="916.4" fill="#E14872" stroke="#E14872">United States Virgin Islands</text>
<text x="1639.0" y="916.3" fill="#2180CC" stroke="#2180CC">Norway</text>
<text x="1706.4" y="916.3" fill="#6DA022" stroke="#6DA022">Denmark</text>
<text x="1638.4" y="944.5" fill="#735DB1" stroke="#735DB1">Republic of Korea</text>
<text x="1610.8" y="943.5" fill="#0E9F1D" stroke="#0E9F1D">Germany</text>
<text x="1504.1" y="944.6" fill="#DF477C" stroke="#DF477C">United Kingdom</text>
<text x="1578.2" y="973.6" fill="#13A997" stroke="#13A997">Kuwait</text>
<text x="1608.4" y="972.6" fill="#DF467D" stroke="#DF467D">United Arab Emirates</text>
<text x="1599.0" y="1000.8" fill="#0B97D4" stroke="#0B97D4">Monaco</text>
<text x="1677.0" y="1020.2" fill="#C54096" stroke="#C54096">Switzerland</text>
<text x="1516.1" y="1000.8" fill="#B6951D" stroke="#B6951D">Canada</text>
<text x="1534.1" y="1028.9" fill="#DF592E" stroke="#DF592E">Andorra</text>
<text x="1567.3" y="1056.1" fill="#955AAD" stroke="#955AAD">San Marino</text>
<text x="1476.6" y="1057.0" fill="#009E1A" stroke="#009E1A">Finland</text>
<text x="1206.7" y="911.7" fill="#11AAA6" stroke="#11AAA6">Lebanon</text>
<text x="1191.7" y="948.6" fill="#14A787" stroke="#14A787">Jordan</text>
<text x="1288.3" y="919.5" fill="#A94BA4" stroke="#A94BA4">Slovakia</text>
<text x="1127.0" y="913.0" fill="#E0476E" stroke="#E0476E">Uruguay</text>
<text x="1417.7" y="917.6" fill="#009F1A" stroke="#009F1A">France</text>
<text x="1114.8" y="949.6" fill="#0F9AD2" stroke="#0F9AD2">Mauritius</text>
<text x="1260.2" y="947.3" fill="#A052A9" stroke="#A052A9">Serbia</text>
<text x="1340.1" y="946.7" fill="#D38716" stroke="#D38716">Bermuda</text>
<text x="1398.2" y="944.6" fill="#E04876" stroke="#E04876">United States of America</text>
<text x="1302.0" y="974.9" fill="#13A475" stroke="#13A475">Israel</text>
<text x="1203.5" y="975.8" fill="#A351A8" stroke="#A351A8">Seychelles</text>
<text x="1407.1" y="973.4" fill="#6F5DB1" stroke="#6F5DB1">Qatar</text>
<text x="1466.3" y="974.9" fill="#1C9D1A" stroke="#1C9D1A">Estonia</text>
<text x="1287.6" y="1003.6" fill="#8E9C1F" stroke="#8E9C1F">Croatia</text>
<text x="1198.3" y="1034.1" fill="#D87F12" stroke="#D87F12">Belarus</text>
<text x="1362.0" y="1001.1" fill="#85A226" stroke="#85A226">Czechia</text>
<text x="1292.5" y="1030.2" fill="#805DB1" stroke="#805DB1">Russian Federation</text>
<text x="1200.8" y="1007.3" fill="#7C5DB0" stroke="#7C5DB0">Romania</text>
<text x="1157.1" y="1061.3" fill="#DD4480" stroke="#DD4480">Ukraine</text>
<text x="1273.7" y="1057.4" fill="#969817" stroke="#969817">Cook Islands</text>
<text x="1402.2" y="1057.4" fill="#11A9A3" stroke="#11A9A3">Latvia</text>
<text x="1443.0" y="1021.5" fill="#22ABC3" stroke="#22ABC3">Lithuania</text>
<text x="1127.9" y="979.4" fill="#DD6318" stroke="#DD6318">Argentina</text>
<text x="1055.5" y="1007.0" fill="#B7439C" stroke="#B7439C">Sri Lanka</text>
<text x="1145.7" y="1010.1" fill="#1A86D1" stroke="#1A86D1">Niue</text>
<text x="1005.9" y="1035.5" fill="#785DB1" stroke="#785DB1">Republic of Moldova</text>
<text x="978.6" y="1122.5" fill="#DF5433" stroke="#DF5433">American Samoa</text>
<text x="1066.0" y="1069.0" fill="#DB7002" stroke="#DB7002">Azerbaijan</text>
<text x="1105.3" y="1095.9" fill="#13A88B" stroke="#13A88B">Kazakhstan</text>
<text x="1161.0" y="1084.3" fill="#1F81CD" stroke="#1F81CD">Northern Mariana Islands</text>
<text x="1214.6" y="1113.4" fill="#4178C5" stroke="#4178C5">Palau</text>
<text x="1291.9" y="1111.5" fill="#AD991C" stroke="#AD991C">Chile</text>
<text x="1348.6" y="1113.4" fill="#17A045" stroke="#17A045">Guam</text>
<text x="1356.8" y="1084.3" fill="#11A055" stroke="#11A055">Hungary</text>
<text x="781.0" y="931.5" fill="#13A88E" stroke="#13A88E">Kenya</text>
<text x="990.7" y="923.1" fill="#4A9B1A" stroke="#4A9B1A">Ecuador</text>
<text x="855.5" y="923.1" fill="#DB4383" stroke="#DB4383">Tuvalu</text>
<text x="751.2" y="962.5" fill="#139CCF" stroke="#139CCF">Marshall Islands</text>
<text x="643.9" y="989.4" fill="#0D98D3" stroke="#0D98D3">Micronesia (Federated States of)</text>
<text x="920.8" y="923.1" fill="#0991D8" stroke="#0991D8">Namibia</text>
<text x="885.3" y="951.8" fill="#0A8FD7" stroke="#0A8FD7">Nauru</text>
<text x="957.7" y="952.2" fill="#5A5EB0" stroke="#5A5EB0">Philippines</text>
<text x="1045.8" y="952.2" fill="#D03E90" stroke="#D03E90">Thailand</text>
<text x="1049.4" y="922.9" fill="#AE469F" stroke="#AE469F">South Africa</text>
<text x="945.2" y="980.0" fill="#D53F8B" stroke="#D53F8B">Tonga</text>
<text x="871.0" y="1006.2" fill="#925CAE" stroke="#925CAE">Samoa</text>
<text x="1032.5" y="980.0" fill="#009D1A" stroke="#009D1A">Fiji</text>
<text x="978.2" y="1008.2" fill="#D43F8D" stroke="#D43F8D">Tokelau</text>
<text x="774.4" y="1024.7" fill="#13A893" stroke="#13A893">Kiribati</text>
<text x="861.6" y="1034.4" fill="#12A99A" stroke="#12A99A">Kyrgyzstan</text>
<text x="953.0" y="1036.3" fill="#DB4285" stroke="#DB4285">Turkmenistan</text>
<text x="868.4" y="1061.6" fill="#0B96D5" stroke="#0B96D5">Mongolia</text>
<text x="777.1" y="1061.6" fill="#CD3F92" stroke="#CD3F92">Tajikistan</text>
<text x="983.5" y="1063.5" fill="#DD6606" stroke="#DD6606">Armenia</text>
<text x="912.8" y="1090.7" fill="#E0486A" stroke="#E0486A">Uzbekistan</text>
<text x="683.8" y="933.8" fill="#E04766" stroke="#E04766">Vanuatu</text>
<text x="643.1" y="961.0" fill="#E04748" stroke="#E04748">Zimbabwe</text>
<text x="1523.8" y="1084.2" fill="#14A782" stroke="#14A782">Japan</text>
<text x="1430.1" y="1085.1" fill="#A74DA5" stroke="#A74DA5">Singapore</text>
<text x="1450.7" y="1111.9" fill="#AB4AA3" stroke="#AB4AA3">Slovenia</text>
<text x="1540.1" y="1110.0" fill="#6A5EB1" stroke="#6A5EB1">Puerto Rico</text>
</g>
<path d="M135.2,49.0 L135.2,1131.0 L1787.8,1131.0" fill="none" stroke="#000" stroke-width="2.1" stroke-linejoin="round"/>
<line x1="130.0" y1="1111.5" x2="135.2" y2="1111.5" stroke="#333" stroke-width="2.1"/>
<text x="123.5" y="1124.8" text-anchor="end" class="tick">0.0</text>
<line x1="130.0" y1="896.0" x2="135.2" y2="896.0" stroke="#333" stroke-width="2.1"/>
<text x="123.5" y="909.2" text-anchor="end" class="tick">0.1</text>
<line x1="130.0" y1="680.4" x2="135.2" y2="680.4" stroke="#333" stroke-width="2.1"/>
<text x="123.5" y="693.7" text-anchor="end" class="tick">0.2</text>
<line x1="130.0" y1="464.9" x2="135.2" y2="464.9" stroke="#333" stroke-width="2.1"/>
<text x="123.5" y="478.2" text-anchor="end" class="tick">0.3</text>
<line x1="130.0" y1="249.3" x2="135.2" y2="249.3" stroke="#333" stroke-width="2.1"/>
<text x="123.5" y="262.6" text-anchor="end" class="tick">0.4</text>
<line x1="210.1" y1="1131.0" x2="210.1" y2="1136.2" stroke="#333" stroke-width="2.1"/>
<text x="208.3" y="1167.6" text-anchor="middle" class="tick">0.2</text>
<line x1="397.9" y1="1131.0" x2="397.9" y2="1136.2" stroke="#333" stroke-width="2.1"/>
<text x="396.1" y="1167.6" text-anchor="middle" class="tick">0.3</text>
<line x1="585.8" y1="1131.0" x2="585.8" y2="1136.2" stroke="#333" stroke-width="2.1"/>
<text x="584.0" y="1167.6" text-anchor="middle" class="tick">0.4</text>
<line x1="773.6" y1="1131.0" x2="773.6" y2="1136.2" stroke="#333" stroke-width="2.1"/>
<text x="771.8" y="1167.6" text-anchor="middle" class="tick">0.5</text>
<line x1="961.4" y1="1131.0" x2="961.4" y2="1136.2" stroke="#333" stroke-width="2.1"/>
<text x="959.6" y="1167.6" text-anchor="middle" class="tick">0.6</text>
<line x1="1149.2" y1="1131.0" x2="1149.2" y2="1136.2" stroke="#333" stroke-width="2.1"/>
<text x="1147.5" y="1167.6" text-anchor="middle" class="tick">0.7</text>
<line x1="1337.1" y1="1131.0" x2="1337.1" y2="1136.2" stroke="#333" stroke-width="2.1"/>
<text x="1335.3" y="1167.6" text-anchor="middle" class="tick">0.8</text>
<line x1="1524.9" y1="1131.0" x2="1524.9" y2="1136.2" stroke="#333" stroke-width="2.1"/>
<text x="1523.1" y="1167.6" text-anchor="middle" class="tick">0.9</text>
<line x1="1712.7" y1="1131.0" x2="1712.7" y2="1136.2" stroke="#333" stroke-width="2.1"/>
<text x="1710.9" y="1167.6" text-anchor="middle" class="tick">1.0</text>
<text x="968.3" y="1213.5" text-anchor="middle" class="title">SDI</text>
<text transform="translate(28.7,578.7) rotate(-90)" text-anchor="middle" class="title">Deaths Rate per 100,000 population</text>
<text x="11.0" y="49.0" class="letter">A</text>
<circle cx="797.8" cy="1346.8" r="2.9" fill="#10A050" fill-opacity="0.8" stroke="#10A050" stroke-opacity="0.8" stroke-width="0.9"/>
<circle cx="676.5" cy="1472.3" r="2.9" fill="#12A050" fill-opacity="0.8" stroke="#12A050" stroke-opacity="0.8" stroke-width="0.9"/>
<circle cx="893.2" cy="1616.6" r="2.9" fill="#3D9C1A" fill-opacity="0.8" stroke="#3D9C1A" stroke-opacity="0.8" stroke-width="0.9"/>
<circle cx="848.4" cy="1625.4" r="2.9" fill="#19A04A" fill-opacity="0.8" stroke="#19A04A" stroke-opacity="0.8" stroke-width="0.9"/>
<circle cx="648.1" cy="1734.1" r="2.9" fill="#0A8ED8" fill-opacity="0.8" stroke="#0A8ED8" stroke-opacity="0.8" stroke-width="0.9"/>
<circle cx="722.9" cy="1754.4" r="2.9" fill="#D28817" fill-opacity="0.8" stroke="#D28817" stroke-opacity="0.8" stroke-width="0.9"/>
<circle cx="758.9" cy="1771.7" r="2.9" fill="#D97A10" fill-opacity="0.8" stroke="#D97A10" stroke-opacity="0.8" stroke-width="0.9"/>
<circle cx="996.6" cy="1739.7" r="2.9" fill="#509A1A" fill-opacity="0.8" stroke="#509A1A" stroke-opacity="0.8" stroke-width="0.9"/>
<circle cx="1031.2" cy="1673.6" r="2.9" fill="#8E5EAE" fill-opacity="0.8" stroke="#8E5EAE" stroke-opacity="0.8" stroke-width="0.9"/>
<circle cx="1097.7" cy="1805.5" r="2.9" fill="#8B5EAF" fill-opacity="0.8" stroke="#8B5EAF" stroke-opacity="0.8" stroke-width="0.9"/>
<circle cx="1091.1" cy="1827.1" r="2.9" fill="#15A03F" fill-opacity="0.8" stroke="#15A03F" stroke-opacity="0.8" stroke-width="0.9"/>
<circle cx="1057.0" cy="1830.8" r="2.9" fill="#15A050" fill-opacity="0.8" stroke="#15A050" stroke-opacity="0.8" stroke-width="0.9"/>
<circle cx="781.3" cy="1818.6" r="2.9" fill="#3A7CC8" fill-opacity="0.8" stroke="#3A7CC8" stroke-opacity="0.8" stroke-width="0.9"/>
<circle cx="959.6" cy="1868.7" r="2.9" fill="#D08A18" fill-opacity="0.8" stroke="#D08A18" stroke-opacity="0.8" stroke-width="0.9"/>
<circle cx="954.6" cy="1901.7" r="2.9" fill="#E14861" fill-opacity="0.8" stroke="#E14861" stroke-opacity="0.8" stroke-width="0.9"/>
<circle cx="818.2" cy="1872.4" r="2.9" fill="#1589D5" fill-opacity="0.8" stroke="#1589D5" stroke-opacity="0.8" stroke-width="0.9"/>
<circle cx="915.2" cy="1916.2" r="2.9" fill="#12A15F" fill-opacity="0.8" stroke="#12A15F" stroke-opacity="0.8" stroke-width="0.9"/>
<circle cx="973.6" cy="1892.4" r="2.9" fill="#449C1A" fill-opacity="0.8" stroke="#449C1A" stroke-opacity="0.8" stroke-width="0.9"/>
<circle cx="753.3" cy="1930.0" r="2.9" fill="#12AA9F" fill-opacity="0.8" stroke="#12AA9F" stroke-opacity="0.8" stroke-width="0.9"/>
<circle cx="1004.4" cy="1964.8" r="2.9" fill="#C84095" fill-opacity="0.8" stroke="#C84095" stroke-opacity="0.8" stroke-width="0.9"/>
<circle cx="1019.9" cy="1930.2" r="2.9" fill="#4773C2" fill-opacity="0.8" stroke="#4773C2" stroke-opacity="0.8" stroke-width="0.9"/>
<circle cx="669.3" cy="1936.2" r="2.9" fill="#D13E8F" fill-opacity="0.8" stroke="#D13E8F" stroke-opacity="0.8" stroke-width="0.9"/>
<circle cx="784.8" cy="1980.1" r="2.9" fill="#E04851" fill-opacity="0.8" stroke="#E04851" stroke-opacity="0.8" stroke-width="0.9"/>
<circle cx="852.3" cy="1975.0" r="2.9" fill="#BA429A" fill-opacity="0.8" stroke="#BA429A" stroke-opacity="0.8" stroke-width="0.9"/>
<circle cx="1028.4" cy="1975.1" r="2.9" fill="#5466B7" fill-opacity="0.8" stroke="#5466B7" stroke-opacity="0.8" stroke-width="0.9"/>
<circle cx="735.4" cy="1974.3" r="2.9" fill="#B7921C" fill-opacity="0.8" stroke="#B7921C" stroke-opacity="0.8" stroke-width="0.9"/>
<circle cx="837.0" cy="1983.2" r="2.9" fill="#0992D7" fill-opacity="0.8" stroke="#0992D7" stroke-opacity="0.8" stroke-width="0.9"/>
<circle cx="981.3" cy="2066.3" r="2.9" fill="#D58214" fill-opacity="0.8" stroke="#D58214" stroke-opacity="0.8" stroke-width="0.9"/>
<circle cx="1068.0" cy="1997.8" r="2.9" fill="#12A364" fill-opacity="0.8" stroke="#12A364" stroke-opacity="0.8" stroke-width="0.9"/>
<circle cx="723.8" cy="2023.6" r="2.9" fill="#B8901A" fill-opacity="0.8" stroke="#B8901A" stroke-opacity="0.8" stroke-width="0.9"/>
<circle cx="793.4" cy="2039.0" r="2.9" fill="#10AAAA" fill-opacity="0.8" stroke="#10AAAA" stroke-opacity="0.8" stroke-width="0.9"/>
<circle cx="1082.8" cy="1860.6" r="2.9" fill="#0E99D2" fill-opacity="0.8" stroke="#0E99D2" stroke-opacity="0.8" stroke-width="0.9"/>
<circle cx="1090.3" cy="1875.5" r="2.9" fill="#8B9E21" fill-opacity="0.8" stroke="#8B9E21" stroke-opacity="0.8" stroke-width="0.9"/>
<circle cx="369.9" cy="1826.2" r="2.9" fill="#C8961E" fill-opacity="0.8" stroke="#C8961E" stroke-opacity="0.8" stroke-width="0.9"/>
<circle cx="467.6" cy="1850.2" r="2.9" fill="#E04840" fill-opacity="0.8" stroke="#E04840" stroke-opacity="0.8" stroke-width="0.9"/>
<circle cx="286.3" cy="1898.7" r="2.9" fill="#B39A20" fill-opacity="0.8" stroke="#B39A20" stroke-opacity="0.8" stroke-width="0.9"/>
<circle cx="447.5" cy="1910.3" r="2.9" fill="#0993D7" fill-opacity="0.8" stroke="#0993D7" stroke-opacity="0.8" stroke-width="0.9"/>
<circle cx="497.5" cy="1959.5" r="2.9" fill="#17A150" fill-opacity="0.8" stroke="#17A150" stroke-opacity="0.8" stroke-width="0.9"/>
<circle cx="466.1" cy="1950.3" r="2.9" fill="#1AA050" fill-opacity="0.8" stroke="#1AA050" stroke-opacity="0.8" stroke-width="0.9"/>
<circle cx="508.0" cy="1986.8" r="2.9" fill="#009E1A" fill-opacity="0.8" stroke="#009E1A" stroke-opacity="0.8" stroke-width="0.9"/>
<circle cx="415.2" cy="1971.9" r="2.9" fill="#B5971F" fill-opacity="0.8" stroke="#B5971F" stroke-opacity="0.8" stroke-width="0.9"/>
<circle cx="338.7" cy="2009.3" r="2.9" fill="#18A0CD" fill-opacity="0.8" stroke="#18A0CD" stroke-opacity="0.8" stroke-width="0.9"/>
<circle cx="496.4" cy="2000.5" r="2.9" fill="#25AFBF" fill-opacity="0.8" stroke="#25AFBF" stroke-opacity="0.8" stroke-width="0.9"/>
<circle cx="586.0" cy="1998.4" r="2.9" fill="#1FA7C6" fill-opacity="0.8" stroke="#1FA7C6" stroke-opacity="0.8" stroke-width="0.9"/>
<circle cx="378.0" cy="2052.0" r="2.9" fill="#C3941D" fill-opacity="0.8" stroke="#C3941D" stroke-opacity="0.8" stroke-width="0.9"/>
<circle cx="592.6" cy="2056.2" r="2.9" fill="#2A9D1A" fill-opacity="0.8" stroke="#2A9D1A" stroke-opacity="0.8" stroke-width="0.9"/>
<circle cx="553.9" cy="2042.6" r="2.9" fill="#7FA52A" fill-opacity="0.8" stroke="#7FA52A" stroke-opacity="0.8" stroke-width="0.9"/>
<circle cx="357.3" cy="2058.3" r="2.9" fill="#B0459E" fill-opacity="0.8" stroke="#B0459E" stroke-opacity="0.8" stroke-width="0.9"/>
<circle cx="508.0" cy="2065.5" r="2.9" fill="#A54FA7" fill-opacity="0.8" stroke="#A54FA7" stroke-opacity="0.8" stroke-width="0.9"/>
<circle cx="556.5" cy="2074.3" r="2.9" fill="#1EA6C7" fill-opacity="0.8" stroke="#1EA6C7" stroke-opacity="0.8" stroke-width="0.9"/>
<circle cx="600.5" cy="2068.5" r="2.9" fill="#9D54AB" fill-opacity="0.8" stroke="#9D54AB" stroke-opacity="0.8" stroke-width="0.9"/>
<circle cx="535.7" cy="2108.1" r="2.9" fill="#D48415" fill-opacity="0.8" stroke="#D48415" stroke-opacity="0.8" stroke-width="0.9"/>
<circle cx="601.5" cy="2068.3" r="2.9" fill="#D33F8E" fill-opacity="0.8" stroke="#D33F8E" stroke-opacity="0.8" stroke-width="0.9"/>
<circle cx="673.1" cy="2168.6" r="2.9" fill="#E0487A" fill-opacity="0.8" stroke="#E0487A" stroke-opacity="0.8" stroke-width="0.9"/>
<circle cx="603.6" cy="1975.1" r="2.9" fill="#069F1A" fill-opacity="0.8" stroke="#069F1A" stroke-opacity="0.8" stroke-width="0.9"/>
<circle cx="905.0" cy="2023.6" r="2.9" fill="#82A428" fill-opacity="0.8" stroke="#82A428" stroke-opacity="0.8" stroke-width="0.9"/>
<circle cx="634.5" cy="2030.8" r="2.9" fill="#919B1C" fill-opacity="0.8" stroke="#919B1C" stroke-opacity="0.8" stroke-width="0.9"/>
<circle cx="686.7" cy="2036.6" r="2.9" fill="#DE5C29" fill-opacity="0.8" stroke="#DE5C29" stroke-opacity="0.8" stroke-width="0.9"/>
<circle cx="641.1" cy="2062.3" r="2.9" fill="#AD48A2" fill-opacity="0.8" stroke="#AD48A2" stroke-opacity="0.8" stroke-width="0.9"/>
<circle cx="751.1" cy="2064.4" r="2.9" fill="#5A9A1A" fill-opacity="0.8" stroke="#5A9A1A" stroke-opacity="0.8" stroke-width="0.9"/>
<circle cx="783.7" cy="2069.6" r="2.9" fill="#9858AC" fill-opacity="0.8" stroke="#9858AC" stroke-opacity="0.8" stroke-width="0.9"/>
<circle cx="724.3" cy="2082.4" r="2.9" fill="#E04748" fill-opacity="0.8" stroke="#E04748" stroke-opacity="0.8" stroke-width="0.9"/>
<circle cx="629.3" cy="2083.0" r="2.9" fill="#DC4482" fill-opacity="0.8" stroke="#DC4482" stroke-opacity="0.8" stroke-width="0.9"/>
<circle cx="652.7" cy="2089.0" r="2.9" fill="#845DB0" fill-opacity="0.8" stroke="#845DB0" stroke-opacity="0.8" stroke-width="0.9"/>
<circle cx="728.8" cy="2101.5" r="2.9" fill="#9A9410" fill-opacity="0.8" stroke="#9A9410" stroke-opacity="0.8" stroke-width="0.9"/>
<circle cx="771.3" cy="2104.6" r="2.9" fill="#109AD0" fill-opacity="0.8" stroke="#109AD0" stroke-opacity="0.8" stroke-width="0.9"/>
<circle cx="836.7" cy="2095.1" r="2.9" fill="#BD921B" fill-opacity="0.8" stroke="#BD921B" stroke-opacity="0.8" stroke-width="0.9"/>
<circle cx="723.2" cy="2119.1" r="2.9" fill="#E04766" fill-opacity="0.8" stroke="#E04766" stroke-opacity="0.8" stroke-width="0.9"/>
<circle cx="818.1" cy="2135.6" r="2.9" fill="#13A88E" fill-opacity="0.8" stroke="#13A88E" stroke-opacity="0.8" stroke-width="0.9"/>
<circle cx="891.2" cy="2111.2" r="2.9" fill="#0994D6" fill-opacity="0.8" stroke="#0994D6" stroke-opacity="0.8" stroke-width="0.9"/>
<circle cx="895.3" cy="2163.3" r="2.9" fill="#109F28" fill-opacity="0.8" stroke="#109F28" stroke-opacity="0.8" stroke-width="0.9"/>
<circle cx="917.4" cy="2162.9" r="2.9" fill="#DB4383" fill-opacity="0.8" stroke="#DB4383" stroke-opacity="0.8" stroke-width="0.9"/>
<circle cx="779.6" cy="2156.2" r="2.9" fill="#1887D3" fill-opacity="0.8" stroke="#1887D3" stroke-opacity="0.8" stroke-width="0.9"/>
<circle cx="912.8" cy="2167.0" r="2.9" fill="#139CCF" fill-opacity="0.8" stroke="#139CCF" stroke-opacity="0.8" stroke-width="0.9"/>
<circle cx="1117.9" cy="1898.8" r="2.9" fill="#14A67F" fill-opacity="0.8" stroke="#14A67F" stroke-opacity="0.8" stroke-width="0.9"/>
<circle cx="1143.9" cy="1917.4" r="2.9" fill="#13A368" fill-opacity="0.8" stroke="#13A368" stroke-opacity="0.8" stroke-width="0.9"/>
<circle cx="1024.7" cy="1913.9" r="2.9" fill="#BE4299" fill-opacity="0.8" stroke="#BE4299" stroke-opacity="0.8" stroke-width="0.9"/>
<circle cx="1060.8" cy="1976.2" r="2.9" fill="#CD901B" fill-opacity="0.8" stroke="#CD901B" stroke-opacity="0.8" stroke-width="0.9"/>
<circle cx="1166.0" cy="1967.9" r="2.9" fill="#4C6FBF" fill-opacity="0.8" stroke="#4C6FBF" stroke-opacity="0.8" stroke-width="0.9"/>
<circle cx="1072.7" cy="1991.2" r="2.9" fill="#DF5138" fill-opacity="0.8" stroke="#DF5138" stroke-opacity="0.8" stroke-width="0.9"/>
<circle cx="1149.5" cy="1983.4" r="2.9" fill="#939919" fill-opacity="0.8" stroke="#939919" stroke-opacity="0.8" stroke-width="0.9"/>
<circle cx="1065.5" cy="2033.9" r="2.9" fill="#A09615" fill-opacity="0.8" stroke="#A09615" stroke-opacity="0.8" stroke-width="0.9"/>
<circle cx="1078.9" cy="2038.1" r="2.9" fill="#13A46D" fill-opacity="0.8" stroke="#13A46D" stroke-opacity="0.8" stroke-width="0.9"/>
<circle cx="1189.9" cy="2029.5" r="2.9" fill="#A79719" fill-opacity="0.8" stroke="#A79719" stroke-opacity="0.8" stroke-width="0.9"/>
<circle cx="933.9" cy="2075.2" r="2.9" fill="#039D1A" fill-opacity="0.8" stroke="#039D1A" stroke-opacity="0.8" stroke-width="0.9"/>
<circle cx="1014.3" cy="2081.3" r="2.9" fill="#E0475D" fill-opacity="0.8" stroke="#E0475D" stroke-opacity="0.8" stroke-width="0.9"/>
<circle cx="1116.0" cy="2051.5" r="2.9" fill="#D94188" fill-opacity="0.8" stroke="#D94188" stroke-opacity="0.8" stroke-width="0.9"/>
<circle cx="1210.1" cy="2032.6" r="2.9" fill="#0A9F1A" fill-opacity="0.8" stroke="#0A9F1A" stroke-opacity="0.8" stroke-width="0.9"/>
<circle cx="1026.7" cy="2094.7" r="2.9" fill="#039E1A" fill-opacity="0.8" stroke="#039E1A" stroke-opacity="0.8" stroke-width="0.9"/>
<circle cx="1079.3" cy="2064.8" r="2.9" fill="#5762B4" fill-opacity="0.8" stroke="#5762B4" stroke-opacity="0.8" stroke-width="0.9"/>
<circle cx="1070.0" cy="2078.2" r="2.9" fill="#CF8C19" fill-opacity="0.8" stroke="#CF8C19" stroke-opacity="0.8" stroke-width="0.9"/>
<circle cx="1340.1" cy="1907.1" r="2.9" fill="#169FCD" fill-opacity="0.8" stroke="#169FCD" stroke-opacity="0.8" stroke-width="0.9"/>
<circle cx="1252.4" cy="1978.9" r="2.9" fill="#875DB0" fill-opacity="0.8" stroke="#875DB0" stroke-opacity="0.8" stroke-width="0.9"/>
<circle cx="1420.4" cy="1955.6" r="2.9" fill="#DC6A00" fill-opacity="0.8" stroke="#DC6A00" stroke-opacity="0.8" stroke-width="0.9"/>
<circle cx="1329.2" cy="1968.4" r="2.9" fill="#0A95D6" fill-opacity="0.8" stroke="#0A95D6" stroke-opacity="0.8" stroke-width="0.9"/>
<circle cx="1429.9" cy="1966.9" r="2.9" fill="#128BD5" fill-opacity="0.8" stroke="#128BD5" stroke-opacity="0.8" stroke-width="0.9"/>
<circle cx="1237.4" cy="1985.4" r="2.9" fill="#559B1A" fill-opacity="0.8" stroke="#559B1A" stroke-opacity="0.8" stroke-width="0.9"/>
<circle cx="1231.8" cy="2030.1" r="2.9" fill="#655EB1" fill-opacity="0.8" stroke="#655EB1" stroke-opacity="0.8" stroke-width="0.9"/>
<circle cx="1404.1" cy="2009.5" r="2.9" fill="#88A023" fill-opacity="0.8" stroke="#88A023" stroke-opacity="0.8" stroke-width="0.9"/>
<circle cx="1242.9" cy="2024.4" r="2.9" fill="#DD5F21" fill-opacity="0.8" stroke="#DD5F21" stroke-opacity="0.8" stroke-width="0.9"/>
<circle cx="1279.2" cy="2030.1" r="2.9" fill="#B4449C" fill-opacity="0.8" stroke="#B4449C" stroke-opacity="0.8" stroke-width="0.9"/>
<circle cx="1438.1" cy="2036.7" r="2.9" fill="#D68013" fill-opacity="0.8" stroke="#D68013" stroke-opacity="0.8" stroke-width="0.9"/>
<circle cx="1236.7" cy="2099.9" r="2.9" fill="#D87C11" fill-opacity="0.8" stroke="#D87C11" stroke-opacity="0.8" stroke-width="0.9"/>
<circle cx="1248.7" cy="2129.2" r="2.9" fill="#DA770C" fill-opacity="0.8" stroke="#DA770C" stroke-opacity="0.8" stroke-width="0.9"/>
<circle cx="1359.7" cy="2107.5" r="2.9" fill="#605EB0" fill-opacity="0.8" stroke="#605EB0" stroke-opacity="0.8" stroke-width="0.9"/>
<circle cx="1365.3" cy="2108.5" r="2.9" fill="#9A56AB" fill-opacity="0.8" stroke="#9A56AB" stroke-opacity="0.8" stroke-width="0.9"/>
<circle cx="1229.5" cy="2120.9" r="2.9" fill="#1CA4C9" fill-opacity="0.8" stroke="#1CA4C9" stroke-opacity="0.8" stroke-width="0.9"/>
<circle cx="1286.9" cy="2088.3" r="2.9" fill="#2A7ECA" fill-opacity="0.8" stroke="#2A7ECA" stroke-opacity="0.8" stroke-width="0.9"/>
<circle cx="1322.0" cy="2091.0" r="2.9" fill="#12A031" fill-opacity="0.8" stroke="#12A031" stroke-opacity="0.8" stroke-width="0.9"/>
<circle cx="1438.1" cy="2099.7" r="2.9" fill="#DC6D00" fill-opacity="0.8" stroke="#DC6D00" stroke-opacity="0.8" stroke-width="0.9"/>
<circle cx="1477.4" cy="2104.6" r="2.9" fill="#CA3F93" fill-opacity="0.8" stroke="#CA3F93" stroke-opacity="0.8" stroke-width="0.9"/>
<circle cx="1161.8" cy="2123.6" r="2.9" fill="#E04C3C" fill-opacity="0.8" stroke="#E04C3C" stroke-opacity="0.8" stroke-width="0.9"/>
<circle cx="1244.2" cy="2113.7" r="2.9" fill="#1D84CF" fill-opacity="0.8" stroke="#1D84CF" stroke-opacity="0.8" stroke-width="0.9"/>
<circle cx="1356.4" cy="2112.7" r="2.9" fill="#CC921C" fill-opacity="0.8" stroke="#CC921C" stroke-opacity="0.8" stroke-width="0.9"/>
<circle cx="1386.5" cy="2140.1" r="2.9" fill="#139F38" fill-opacity="0.8" stroke="#139F38" stroke-opacity="0.8" stroke-width="0.9"/>
<circle cx="1347.7" cy="2120.3" r="2.9" fill="#14A67A" fill-opacity="0.8" stroke="#14A67A" stroke-opacity="0.8" stroke-width="0.9"/>
<circle cx="1357.0" cy="2157.0" r="2.9" fill="#A94BA4" fill-opacity="0.8" stroke="#A94BA4" stroke-opacity="0.8" stroke-width="0.9"/>
<circle cx="1198.2" cy="2130.2" r="2.9" fill="#24ADC1" fill-opacity="0.8" stroke="#24ADC1" stroke-opacity="0.8" stroke-width="0.9"/>
<circle cx="1346.3" cy="2146.7" r="2.9" fill="#DA7407" fill-opacity="0.8" stroke="#DA7407" stroke-opacity="0.8" stroke-width="0.9"/>
<circle cx="1276.6" cy="2134.3" r="2.9" fill="#C9941D" fill-opacity="0.8" stroke="#C9941D" stroke-opacity="0.8" stroke-width="0.9"/>
<circle cx="1353.9" cy="2152.9" r="2.9" fill="#13A475" fill-opacity="0.8" stroke="#13A475" stroke-opacity="0.8" stroke-width="0.9"/>
<circle cx="1408.6" cy="2155.0" r="2.9" fill="#009F1A" fill-opacity="0.8" stroke="#009F1A" stroke-opacity="0.8" stroke-width="0.9"/>
<circle cx="1378.1" cy="2188.5" r="2.9" fill="#E14872" fill-opacity="0.8" stroke="#E14872" stroke-opacity="0.8" stroke-width="0.9"/>
<circle cx="1277.8" cy="2174.9" r="2.9" fill="#D64089" fill-opacity="0.8" stroke="#D64089" stroke-opacity="0.8" stroke-width="0.9"/>
<circle cx="1185.2" cy="2162.2" r="2.9" fill="#E0476E" fill-opacity="0.8" stroke="#E0476E" stroke-opacity="0.8" stroke-width="0.9"/>
<circle cx="1197.0" cy="2167.8" r="2.9" fill="#14A787" fill-opacity="0.8" stroke="#14A787" stroke-opacity="0.8" stroke-width="0.9"/>
<circle cx="1454.5" cy="2145.9" r="2.9" fill="#E04876" fill-opacity="0.8" stroke="#E04876" stroke-opacity="0.8" stroke-width="0.9"/>
<circle cx="1480.5" cy="2123.2" r="2.9" fill="#11A15A" fill-opacity="0.8" stroke="#11A15A" stroke-opacity="0.8" stroke-width="0.9"/>
<circle cx="1518.1" cy="2138.2" r="2.9" fill="#6DA022" fill-opacity="0.8" stroke="#6DA022" stroke-opacity="0.8" stroke-width="0.9"/>
<circle cx="1499.9" cy="2126.9" r="2.9" fill="#C24098" fill-opacity="0.8" stroke="#C24098" stroke-opacity="0.8" stroke-width="0.9"/>
<circle cx="1499.9" cy="2151.4" r="2.9" fill="#735DB1" fill-opacity="0.8" stroke="#735DB1" stroke-opacity="0.8" stroke-width="0.9"/>
<circle cx="1475.4" cy="2151.0" r="2.9" fill="#13A472" fill-opacity="0.8" stroke="#13A472" stroke-opacity="0.8" stroke-width="0.9"/>
<circle cx="1503.2" cy="2158.8" r="2.9" fill="#0E8DD7" fill-opacity="0.8" stroke="#0E8DD7" stroke-opacity="0.8" stroke-width="0.9"/>
<circle cx="1495.8" cy="2162.4" r="2.9" fill="#21AAC5" fill-opacity="0.8" stroke="#21AAC5" stroke-opacity="0.8" stroke-width="0.9"/>
<circle cx="1530.5" cy="2168.1" r="2.9" fill="#0E9F1D" fill-opacity="0.8" stroke="#0E9F1D" stroke-opacity="0.8" stroke-width="0.9"/>
<circle cx="1555.2" cy="2173.7" r="2.9" fill="#2180CC" fill-opacity="0.8" stroke="#2180CC" stroke-opacity="0.8" stroke-width="0.9"/>
<circle cx="1400.0" cy="2175.0" r="2.9" fill="#DF467D" fill-opacity="0.8" stroke="#DF467D" stroke-opacity="0.8" stroke-width="0.9"/>
<circle cx="1448.1" cy="2202.0" r="2.9" fill="#DF477C" fill-opacity="0.8" stroke="#DF477C" stroke-opacity="0.8" stroke-width="0.9"/>
<circle cx="1474.3" cy="2205.7" r="2.9" fill="#B6951D" fill-opacity="0.8" stroke="#B6951D" stroke-opacity="0.8" stroke-width="0.9"/>
<circle cx="1390.9" cy="2193.4" r="2.9" fill="#85A226" fill-opacity="0.8" stroke="#85A226" stroke-opacity="0.8" stroke-width="0.9"/>
<circle cx="1540.2" cy="2220.5" r="2.9" fill="#0B97D4" fill-opacity="0.8" stroke="#0B97D4" stroke-opacity="0.8" stroke-width="0.9"/>
<circle cx="1425.0" cy="2204.0" r="2.9" fill="#13A997" fill-opacity="0.8" stroke="#13A997" stroke-opacity="0.8" stroke-width="0.9"/>
<circle cx="1586.9" cy="2242.2" r="2.9" fill="#C54096" fill-opacity="0.8" stroke="#C54096" stroke-opacity="0.8" stroke-width="0.9"/>
<circle cx="1502.8" cy="2259.7" r="2.9" fill="#6A5EB1" fill-opacity="0.8" stroke="#6A5EB1" stroke-opacity="0.8" stroke-width="0.9"/>
<circle cx="994.3" cy="2130.3" r="2.9" fill="#0991D8" fill-opacity="0.8" stroke="#0991D8" stroke-opacity="0.8" stroke-width="0.9"/>
<circle cx="1056.6" cy="2109.1" r="2.9" fill="#1AA2CB" fill-opacity="0.8" stroke="#1AA2CB" stroke-opacity="0.8" stroke-width="0.9"/>
<circle cx="1075.8" cy="2128.7" r="2.9" fill="#4A9B1A" fill-opacity="0.8" stroke="#4A9B1A" stroke-opacity="0.8" stroke-width="0.9"/>
<circle cx="1057.7" cy="2163.3" r="2.9" fill="#5A5EB0" fill-opacity="0.8" stroke="#5A5EB0" stroke-opacity="0.8" stroke-width="0.9"/>
<circle cx="1110.5" cy="2176.1" r="2.9" fill="#AE469F" fill-opacity="0.8" stroke="#AE469F" stroke-opacity="0.8" stroke-width="0.9"/>
<circle cx="994.3" cy="2198.4" r="2.9" fill="#0B96D5" fill-opacity="0.8" stroke="#0B96D5" stroke-opacity="0.8" stroke-width="0.9"/>
<circle cx="938.0" cy="2180.9" r="2.9" fill="#0D98D3" fill-opacity="0.8" stroke="#0D98D3" stroke-opacity="0.8" stroke-width="0.9"/>
<circle cx="1183.6" cy="2197.1" r="2.9" fill="#0F9AD2" fill-opacity="0.8" stroke="#0F9AD2" stroke-opacity="0.8" stroke-width="0.9"/>
<circle cx="1008.2" cy="2200.9" r="2.9" fill="#0A8FD7" fill-opacity="0.8" stroke="#0A8FD7" stroke-opacity="0.8" stroke-width="0.9"/>
<circle cx="1116.1" cy="2213.3" r="2.9" fill="#D03E90" fill-opacity="0.8" stroke="#D03E90" stroke-opacity="0.8" stroke-width="0.9"/>
<circle cx="1173.2" cy="2203.7" r="2.9" fill="#DA4186" fill-opacity="0.8" stroke="#DA4186" stroke-opacity="0.8" stroke-width="0.9"/>
<circle cx="949.0" cy="2226.3" r="2.9" fill="#925CAE" fill-opacity="0.8" stroke="#925CAE" stroke-opacity="0.8" stroke-width="0.9"/>
<circle cx="968.5" cy="2227.7" r="2.9" fill="#12A99A" fill-opacity="0.8" stroke="#12A99A" stroke-opacity="0.8" stroke-width="0.9"/>
<circle cx="1152.2" cy="2224.2" r="2.9" fill="#DD6606" fill-opacity="0.8" stroke="#DD6606" stroke-opacity="0.8" stroke-width="0.9"/>
<circle cx="1010.8" cy="2244.2" r="2.9" fill="#D53F8B" fill-opacity="0.8" stroke="#D53F8B" stroke-opacity="0.8" stroke-width="0.9"/>
<circle cx="1102.2" cy="2236.2" r="2.9" fill="#009D1A" fill-opacity="0.8" stroke="#009D1A" stroke-opacity="0.8" stroke-width="0.9"/>
<circle cx="1123.7" cy="2241.7" r="2.9" fill="#D43F8D" fill-opacity="0.8" stroke="#D43F8D" stroke-opacity="0.8" stroke-width="0.9"/>
<circle cx="1115.4" cy="2237.2" r="2.9" fill="#DB4285" fill-opacity="0.8" stroke="#DB4285" stroke-opacity="0.8" stroke-width="0.9"/>
<circle cx="1152.6" cy="2238.4" r="2.9" fill="#B7439C" fill-opacity="0.8" stroke="#B7439C" stroke-opacity="0.8" stroke-width="0.9"/>
<circle cx="1205.6" cy="2225.0" r="2.9" fill="#A351A8" fill-opacity="0.8" stroke="#A351A8" stroke-opacity="0.8" stroke-width="0.9"/>
<circle cx="1078.9" cy="2277.8" r="2.9" fill="#E0486A" fill-opacity="0.8" stroke="#E0486A" stroke-opacity="0.8" stroke-width="0.9"/>
<circle cx="1192.4" cy="2258.0" r="2.9" fill="#DD6318" fill-opacity="0.8" stroke="#DD6318" stroke-opacity="0.8" stroke-width="0.9"/>
<circle cx="1139.4" cy="2256.2" r="2.9" fill="#DB7002" fill-opacity="0.8" stroke="#DB7002" stroke-opacity="0.8" stroke-width="0.9"/>
<circle cx="1193.9" cy="2284.8" r="2.9" fill="#DF5433" fill-opacity="0.8" stroke="#DF5433" stroke-opacity="0.8" stroke-width="0.9"/>
<circle cx="1198.6" cy="2267.3" r="2.9" fill="#1A86D1" fill-opacity="0.8" stroke="#1A86D1" stroke-opacity="0.8" stroke-width="0.9"/>
<circle cx="1263.0" cy="2278.0" r="2.9" fill="#DD4480" fill-opacity="0.8" stroke="#DD4480" stroke-opacity="0.8" stroke-width="0.9"/>
<circle cx="1196.3" cy="2277.6" r="2.9" fill="#13A88B" fill-opacity="0.8" stroke="#13A88B" stroke-opacity="0.8" stroke-width="0.9"/>
<circle cx="1233.7" cy="2207.9" r="2.9" fill="#11AAA6" fill-opacity="0.8" stroke="#11AAA6" stroke-opacity="0.8" stroke-width="0.9"/>
<circle cx="1322.4" cy="2219.2" r="2.9" fill="#A052A9" fill-opacity="0.8" stroke="#A052A9" stroke-opacity="0.8" stroke-width="0.9"/>
<circle cx="1209.8" cy="2219.4" r="2.9" fill="#785DB1" fill-opacity="0.8" stroke="#785DB1" stroke-opacity="0.8" stroke-width="0.9"/>
<circle cx="1277.8" cy="2244.6" r="2.9" fill="#7C5DB0" fill-opacity="0.8" stroke="#7C5DB0" stroke-opacity="0.8" stroke-width="0.9"/>
<circle cx="1308.0" cy="2229.5" r="2.9" fill="#D87F12" fill-opacity="0.8" stroke="#D87F12" stroke-opacity="0.8" stroke-width="0.9"/>
<circle cx="1352.7" cy="2239.4" r="2.9" fill="#805DB1" fill-opacity="0.8" stroke="#805DB1" stroke-opacity="0.8" stroke-width="0.9"/>
<circle cx="1319.7" cy="2232.6" r="2.9" fill="#11A055" fill-opacity="0.8" stroke="#11A055" stroke-opacity="0.8" stroke-width="0.9"/>
<circle cx="1333.8" cy="2242.9" r="2.9" fill="#8E9C1F" fill-opacity="0.8" stroke="#8E9C1F" stroke-opacity="0.8" stroke-width="0.9"/>
<circle cx="1283.6" cy="2288.3" r="2.9" fill="#1F81CD" fill-opacity="0.8" stroke="#1F81CD" stroke-opacity="0.8" stroke-width="0.9"/>
<circle cx="1297.6" cy="2289.6" r="2.9" fill="#969817" fill-opacity="0.8" stroke="#969817" stroke-opacity="0.8" stroke-width="0.9"/>
<circle cx="1283.2" cy="2296.2" r="2.9" fill="#AD991C" fill-opacity="0.8" stroke="#AD991C" stroke-opacity="0.8" stroke-width="0.9"/>
<circle cx="1250.6" cy="2312.7" r="2.9" fill="#4178C5" fill-opacity="0.8" stroke="#4178C5" stroke-opacity="0.8" stroke-width="0.9"/>
<circle cx="1344.5" cy="2331.2" r="2.9" fill="#17A045" fill-opacity="0.8" stroke="#17A045" stroke-opacity="0.8" stroke-width="0.9"/>
<circle cx="1377.5" cy="2221.3" r="2.9" fill="#D38716" fill-opacity="0.8" stroke="#D38716" stroke-opacity="0.8" stroke-width="0.9"/>
<circle cx="1394.6" cy="2255.3" r="2.9" fill="#11A9A3" fill-opacity="0.8" stroke="#11A9A3" stroke-opacity="0.8" stroke-width="0.9"/>
<circle cx="1385.2" cy="2193.7" r="2.9" fill="#955AAD" fill-opacity="0.8" stroke="#955AAD" stroke-opacity="0.8" stroke-width="0.9"/>
<circle cx="1425.0" cy="2225.7" r="2.9" fill="#6F5DB1" fill-opacity="0.8" stroke="#6F5DB1" stroke-opacity="0.8" stroke-width="0.9"/>
<circle cx="1441.9" cy="2237.0" r="2.9" fill="#A74DA5" fill-opacity="0.8" stroke="#A74DA5" stroke-opacity="0.8" stroke-width="0.9"/>
<circle cx="1467.7" cy="2237.7" r="2.9" fill="#DF592E" fill-opacity="0.8" stroke="#DF592E" stroke-opacity="0.8" stroke-width="0.9"/>
<circle cx="1421.3" cy="2246.7" r="2.9" fill="#1C9D1A" fill-opacity="0.8" stroke="#1C9D1A" stroke-opacity="0.8" stroke-width="0.9"/>
<circle cx="1442.9" cy="2254.6" r="2.9" fill="#22ABC3" fill-opacity="0.8" stroke="#22ABC3" stroke-opacity="0.8" stroke-width="0.9"/>
<circle cx="1416.7" cy="2260.8" r="2.9" fill="#AB4AA3" fill-opacity="0.8" stroke="#AB4AA3" stroke-opacity="0.8" stroke-width="0.9"/>
<circle cx="1449.7" cy="2276.9" r="2.9" fill="#009E1A" fill-opacity="0.8" stroke="#009E1A" stroke-opacity="0.8" stroke-width="0.9"/>
<circle cx="1470.8" cy="2310.3" r="2.9" fill="#14A782" fill-opacity="0.8" stroke="#14A782" stroke-opacity="0.8" stroke-width="0.9"/>
<circle cx="619.2" cy="2213.3" r="2.9" fill="#506BBB" fill-opacity="0.8" stroke="#506BBB" stroke-opacity="0.8" stroke-width="0.9"/>
<circle cx="851.4" cy="2221.1" r="2.9" fill="#CD3F92" fill-opacity="0.8" stroke="#CD3F92" stroke-opacity="0.8" stroke-width="0.9"/>
<circle cx="824.5" cy="2250.1" r="2.9" fill="#13A893" fill-opacity="0.8" stroke="#13A893" stroke-opacity="0.8" stroke-width="0.9"/>
<circle cx="680.0" cy="1832.2" r="2.9" fill="#E04858" fill-opacity="0.8" stroke="#E04858" stroke-opacity="0.8" stroke-width="0.9"/>
<circle cx="929.1" cy="2096.1" r="2.9" fill="#989613" fill-opacity="0.8" stroke="#989613" stroke-opacity="0.8" stroke-width="0.9"/>
<circle cx="1041.2" cy="2099.8" r="2.9" fill="#CE8E1A" fill-opacity="0.8" stroke="#CE8E1A" stroke-opacity="0.8" stroke-width="0.9"/>
<circle cx="1070.0" cy="2078.2" r="2.9" fill="#359C1A" fill-opacity="0.8" stroke="#359C1A" stroke-opacity="0.8" stroke-width="0.9"/>
<circle cx="1192.6" cy="2087.3" r="2.9" fill="#DD6606" fill-opacity="0.8" stroke="#DD6606" stroke-opacity="0.8" stroke-width="0.9"/>
<path d="M286.3,1865.7 C288.7,1866.3 296.0,1867.8 300.9,1869.0 C305.8,1870.1 310.7,1871.3 315.5,1872.6 C320.4,1873.8 325.3,1875.1 330.1,1876.4 C335.0,1877.7 339.9,1879.1 344.7,1880.5 C349.6,1881.9 354.5,1883.3 359.4,1884.8 C364.2,1886.2 369.1,1887.7 374.0,1889.1 C378.8,1890.6 383.7,1892.1 388.6,1893.6 C393.4,1895.1 398.3,1896.6 403.2,1898.1 C408.1,1899.5 412.9,1901.0 417.8,1902.5 C422.7,1904.0 427.5,1905.4 432.4,1906.8 C437.3,1908.3 442.1,1909.7 447.0,1911.1 C451.9,1912.4 456.8,1913.8 461.6,1915.1 C466.5,1916.4 471.4,1917.7 476.2,1918.9 C481.1,1920.1 486.0,1921.3 490.8,1922.4 C495.7,1923.5 500.6,1924.6 505.5,1925.6 C510.3,1926.6 515.2,1927.5 520.1,1928.4 C524.9,1929.2 529.8,1930.0 534.7,1930.8 C539.5,1931.5 544.4,1932.2 549.3,1932.9 C554.2,1933.5 559.0,1934.1 563.9,1934.7 C568.8,1935.2 573.6,1935.7 578.5,1936.2 C583.4,1936.7 588.2,1937.1 593.1,1937.5 C598.0,1937.9 602.9,1938.3 607.7,1938.6 C612.6,1938.9 617.5,1939.2 622.3,1939.5 C627.2,1939.8 632.1,1940.1 636.9,1940.3 C641.8,1940.6 646.7,1940.8 651.6,1941.0 C656.4,1941.2 661.3,1941.4 666.2,1941.6 C671.0,1941.8 675.9,1942.0 680.8,1942.2 C685.6,1942.4 690.5,1942.5 695.4,1942.7 C700.3,1942.9 705.1,1943.1 710.0,1943.3 C714.9,1943.5 719.7,1943.7 724.6,1943.9 C729.5,1944.1 734.3,1944.4 739.2,1944.6 C744.1,1944.9 749.0,1945.1 753.8,1945.4 C758.7,1945.7 763.6,1946.0 768.4,1946.4 C773.3,1946.8 778.2,1947.1 783.0,1947.5 C787.9,1948.0 792.8,1948.4 797.7,1948.9 C802.5,1949.4 807.4,1949.9 812.3,1950.5 C817.1,1951.1 822.0,1951.7 826.9,1952.4 C831.7,1953.0 836.6,1953.8 841.5,1954.5 C846.4,1955.3 851.2,1956.2 856.1,1957.1 C861.0,1958.0 865.8,1958.9 870.7,1959.9 C875.6,1961.0 880.4,1962.1 885.3,1963.2 C890.2,1964.3 895.1,1965.5 899.9,1966.8 C904.8,1968.1 909.7,1969.4 914.5,1970.8 C919.4,1972.1 924.3,1973.6 929.1,1975.1 C934.0,1976.5 938.9,1978.1 943.8,1979.7 C948.6,1981.3 953.5,1982.9 958.4,1984.6 C963.2,1986.3 968.1,1988.1 973.0,1989.9 C977.8,1991.7 982.7,1993.5 987.6,1995.4 C992.5,1997.3 997.3,1999.2 1002.2,2001.2 C1007.1,2003.2 1011.9,2005.2 1016.8,2007.3 C1021.7,2009.4 1026.5,2011.5 1031.4,2013.7 C1036.3,2015.8 1041.2,2018.0 1046.0,2020.3 C1050.9,2022.5 1055.8,2024.8 1060.6,2027.1 C1065.5,2029.4 1070.4,2031.8 1075.2,2034.2 C1080.1,2036.6 1085.0,2039.0 1089.9,2041.5 C1094.7,2043.9 1099.6,2046.4 1104.5,2048.9 C1109.3,2051.4 1114.2,2053.9 1119.1,2056.4 C1123.9,2058.9 1128.8,2061.5 1133.7,2063.9 C1138.6,2066.4 1143.4,2068.9 1148.3,2071.4 C1153.2,2073.8 1158.0,2076.3 1162.9,2078.6 C1167.8,2081.0 1172.6,2083.4 1177.5,2085.6 C1182.4,2087.9 1187.3,2090.2 1192.1,2092.3 C1197.0,2094.5 1201.9,2096.6 1206.7,2098.6 C1211.6,2100.6 1216.5,2102.6 1221.3,2104.4 C1226.2,2106.3 1231.1,2108.2 1236.0,2109.9 C1240.8,2111.7 1245.7,2113.4 1250.6,2115.0 C1255.4,2116.7 1260.3,2118.3 1265.2,2119.8 C1270.0,2121.3 1274.9,2122.7 1279.8,2124.1 C1284.7,2125.5 1289.5,2126.8 1294.4,2128.0 C1299.3,2129.2 1304.1,2130.4 1309.0,2131.4 C1313.9,2132.5 1318.7,2133.5 1323.6,2134.4 C1328.5,2135.3 1333.4,2136.1 1338.2,2136.8 C1343.1,2137.5 1348.0,2138.2 1352.8,2138.7 C1357.7,2139.3 1362.6,2139.7 1367.4,2140.1 C1372.3,2140.4 1377.2,2140.7 1382.1,2140.9 C1386.9,2141.0 1391.8,2141.1 1396.7,2141.0 C1401.5,2141.0 1406.4,2140.8 1411.3,2140.6 C1416.1,2140.3 1421.0,2140.0 1425.9,2139.5 C1430.8,2139.0 1435.6,2138.4 1440.5,2137.7 C1445.4,2137.0 1450.2,2136.2 1455.1,2135.2 C1460.0,2134.3 1464.8,2133.2 1469.7,2132.0 C1474.6,2130.8 1479.5,2129.5 1484.3,2128.0 C1489.2,2126.5 1494.1,2125.0 1498.9,2123.2 C1503.8,2121.5 1508.7,2119.6 1513.5,2117.6 C1518.4,2115.6 1523.3,2113.4 1528.2,2111.1 C1533.0,2108.8 1537.9,2106.3 1542.8,2103.7 C1547.6,2101.1 1552.5,2098.3 1557.4,2095.4 C1562.2,2092.5 1567.1,2089.4 1572.0,2086.1 C1576.9,2082.9 1584.2,2077.6 1586.6,2075.9 L1586.6,2256.5 C1584.2,2255.3 1576.9,2251.6 1572.0,2249.4 C1567.1,2247.2 1562.2,2245.1 1557.4,2243.1 C1552.5,2241.1 1547.6,2239.2 1542.8,2237.4 C1537.9,2235.7 1533.0,2234.0 1528.2,2232.5 C1523.3,2230.9 1518.4,2229.4 1513.5,2228.1 C1508.7,2226.7 1503.8,2225.4 1498.9,2224.2 C1494.1,2223.0 1489.2,2221.8 1484.3,2220.8 C1479.5,2219.7 1474.6,2218.7 1469.7,2217.7 C1464.8,2216.8 1460.0,2215.9 1455.1,2215.0 C1450.2,2214.2 1445.4,2213.4 1440.5,2212.6 C1435.6,2211.8 1430.8,2211.1 1425.9,2210.4 C1421.0,2209.7 1416.1,2209.0 1411.3,2208.3 C1406.4,2207.6 1401.5,2207.0 1396.7,2206.3 C1391.8,2205.6 1386.9,2205.0 1382.1,2204.3 C1377.2,2203.7 1372.3,2203.0 1367.4,2202.3 C1362.6,2201.6 1357.7,2200.9 1352.8,2200.2 C1348.0,2199.5 1343.1,2198.8 1338.2,2198.0 C1333.4,2197.2 1328.5,2196.4 1323.6,2195.6 C1318.7,2194.7 1313.9,2193.8 1309.0,2192.9 C1304.1,2191.9 1299.3,2190.9 1294.4,2189.9 C1289.5,2188.8 1284.7,2187.7 1279.8,2186.5 C1274.9,2185.3 1270.0,2184.1 1265.2,2182.7 C1260.3,2181.4 1255.4,2180.0 1250.6,2178.5 C1245.7,2177.0 1240.8,2175.4 1236.0,2173.8 C1231.1,2172.1 1226.2,2170.3 1221.3,2168.4 C1216.5,2166.5 1211.6,2164.6 1206.7,2162.5 C1201.9,2160.4 1197.0,2158.3 1192.1,2156.0 C1187.3,2153.8 1182.4,2151.4 1177.5,2149.0 C1172.6,2146.6 1167.8,2144.1 1162.9,2141.6 C1158.0,2139.1 1153.2,2136.5 1148.3,2133.9 C1143.4,2131.3 1138.6,2128.7 1133.7,2126.1 C1128.8,2123.5 1123.9,2120.8 1119.1,2118.2 C1114.2,2115.7 1109.3,2113.1 1104.5,2110.6 C1099.6,2108.0 1094.7,2105.5 1089.9,2103.1 C1085.0,2100.7 1080.1,2098.4 1075.2,2096.1 C1070.4,2093.8 1065.5,2091.6 1060.6,2089.5 C1055.8,2087.4 1050.9,2085.4 1046.0,2083.4 C1041.2,2081.4 1036.3,2079.5 1031.4,2077.7 C1026.5,2075.9 1021.7,2074.1 1016.8,2072.4 C1011.9,2070.7 1007.1,2069.0 1002.2,2067.5 C997.3,2065.9 992.5,2064.3 987.6,2062.9 C982.7,2061.4 977.8,2060.0 973.0,2058.6 C968.1,2057.2 963.2,2055.9 958.4,2054.6 C953.5,2053.3 948.6,2052.1 943.8,2050.9 C938.9,2049.7 934.0,2048.5 929.1,2047.4 C924.3,2046.3 919.4,2045.2 914.5,2044.1 C909.7,2043.1 904.8,2042.0 899.9,2041.0 C895.1,2040.0 890.2,2039.0 885.3,2038.1 C880.4,2037.1 875.6,2036.2 870.7,2035.3 C865.8,2034.4 861.0,2033.5 856.1,2032.6 C851.2,2031.7 846.4,2030.8 841.5,2029.9 C836.6,2029.1 831.7,2028.3 826.9,2027.4 C822.0,2026.6 817.1,2025.8 812.3,2025.0 C807.4,2024.3 802.5,2023.5 797.7,2022.8 C792.8,2022.1 787.9,2021.4 783.0,2020.7 C778.2,2020.0 773.3,2019.4 768.4,2018.8 C763.6,2018.1 758.7,2017.6 753.8,2017.0 C749.0,2016.5 744.1,2015.9 739.2,2015.5 C734.3,2015.0 729.5,2014.5 724.6,2014.1 C719.7,2013.7 714.9,2013.4 710.0,2013.0 C705.1,2012.7 700.3,2012.4 695.4,2012.2 C690.5,2011.9 685.6,2011.7 680.8,2011.6 C675.9,2011.4 671.0,2011.3 666.2,2011.3 C661.3,2011.2 656.4,2011.2 651.6,2011.3 C646.7,2011.3 641.8,2011.4 636.9,2011.6 C632.1,2011.7 627.2,2011.9 622.3,2012.2 C617.5,2012.5 612.6,2012.8 607.7,2013.2 C602.9,2013.6 598.0,2014.0 593.1,2014.5 C588.2,2015.0 583.4,2015.6 578.5,2016.2 C573.6,2016.9 568.8,2017.6 563.9,2018.3 C559.0,2019.1 554.2,2020.0 549.3,2020.9 C544.4,2021.8 539.5,2022.7 534.7,2023.8 C529.8,2024.9 524.9,2026.0 520.1,2027.2 C515.2,2028.4 510.3,2029.7 505.5,2031.0 C500.6,2032.4 495.7,2033.8 490.8,2035.3 C486.0,2036.8 481.1,2038.4 476.2,2040.0 C471.4,2041.6 466.5,2043.3 461.6,2045.1 C456.8,2046.8 451.9,2048.6 447.0,2050.4 C442.1,2052.2 437.3,2054.0 432.4,2055.9 C427.5,2057.7 422.7,2059.6 417.8,2061.5 C412.9,2063.4 408.1,2065.3 403.2,2067.2 C398.3,2069.1 393.4,2071.1 388.6,2072.9 C383.7,2074.8 378.8,2076.7 374.0,2078.6 C369.1,2080.5 364.2,2082.3 359.4,2084.1 C354.5,2085.9 349.6,2087.7 344.7,2089.4 C339.9,2091.2 335.0,2092.9 330.1,2094.5 C325.3,2096.1 320.4,2097.7 315.5,2099.2 C310.7,2100.7 305.8,2102.2 300.9,2103.5 C296.0,2104.9 288.7,2106.7 286.3,2107.4 Z" fill="#A09F9C" fill-opacity="0.4"/>
<path d="M286.3,1986.6 C288.7,1986.5 296.0,1986.4 300.9,1986.3 C305.8,1986.1 310.7,1986.0 315.5,1985.9 C320.4,1985.8 325.3,1985.6 330.1,1985.5 C335.0,1985.3 339.9,1985.1 344.7,1985.0 C349.6,1984.8 354.5,1984.6 359.4,1984.4 C364.2,1984.3 369.1,1984.1 374.0,1983.9 C378.8,1983.7 383.7,1983.5 388.6,1983.3 C393.4,1983.1 398.3,1982.9 403.2,1982.6 C408.1,1982.4 412.9,1982.2 417.8,1982.0 C422.7,1981.8 427.5,1981.6 432.4,1981.4 C437.3,1981.1 442.1,1980.9 447.0,1980.7 C451.9,1980.5 456.8,1980.3 461.6,1980.1 C466.5,1979.9 471.4,1979.7 476.2,1979.5 C481.1,1979.3 486.0,1979.1 490.8,1978.9 C495.7,1978.7 500.6,1978.5 505.5,1978.3 C510.3,1978.1 515.2,1977.9 520.1,1977.8 C524.9,1977.6 529.8,1977.4 534.7,1977.3 C539.5,1977.1 544.4,1977.0 549.3,1976.9 C554.2,1976.7 559.0,1976.6 563.9,1976.5 C568.8,1976.4 573.6,1976.3 578.5,1976.2 C583.4,1976.1 588.2,1976.1 593.1,1976.0 C598.0,1976.0 602.9,1975.9 607.7,1975.9 C612.6,1975.9 617.5,1975.9 622.3,1975.9 C627.2,1975.9 632.1,1975.9 636.9,1976.0 C641.8,1976.0 646.7,1976.1 651.6,1976.1 C656.4,1976.2 661.3,1976.3 666.2,1976.4 C671.0,1976.6 675.9,1976.7 680.8,1976.9 C685.6,1977.0 690.5,1977.2 695.4,1977.4 C700.3,1977.7 705.1,1977.9 710.0,1978.2 C714.9,1978.4 719.7,1978.7 724.6,1979.0 C729.5,1979.3 734.3,1979.7 739.2,1980.0 C744.1,1980.4 749.0,1980.8 753.8,1981.2 C758.7,1981.6 763.6,1982.1 768.4,1982.6 C773.3,1983.1 778.2,1983.6 783.0,1984.1 C787.9,1984.7 792.8,1985.2 797.7,1985.8 C802.5,1986.5 807.4,1987.1 812.3,1987.8 C817.1,1988.4 822.0,1989.2 826.9,1989.9 C831.7,1990.7 836.6,1991.4 841.5,1992.2 C846.4,1993.1 851.2,1993.9 856.1,1994.8 C861.0,1995.7 865.8,1996.6 870.7,1997.6 C875.6,1998.6 880.4,1999.6 885.3,2000.6 C890.2,2001.7 895.1,2002.8 899.9,2003.9 C904.8,2005.0 909.7,2006.2 914.5,2007.4 C919.4,2008.7 924.3,2009.9 929.1,2011.2 C934.0,2012.5 938.9,2013.9 943.8,2015.3 C948.6,2016.7 953.5,2018.1 958.4,2019.6 C963.2,2021.1 968.1,2022.6 973.0,2024.2 C977.8,2025.8 982.7,2027.4 987.6,2029.1 C992.5,2030.8 997.3,2032.5 1002.2,2034.3 C1007.1,2036.1 1011.9,2038.0 1016.8,2039.8 C1021.7,2041.7 1026.5,2043.7 1031.4,2045.7 C1036.3,2047.7 1041.2,2049.7 1046.0,2051.8 C1050.9,2053.9 1055.8,2056.1 1060.6,2058.3 C1065.5,2060.5 1070.4,2062.8 1075.2,2065.1 C1080.1,2067.5 1085.0,2069.9 1089.9,2072.3 C1094.7,2074.7 1099.6,2077.2 1104.5,2079.7 C1109.3,2082.2 1114.2,2084.8 1119.1,2087.3 C1123.9,2089.9 1128.8,2092.5 1133.7,2095.0 C1138.6,2097.6 1143.4,2100.1 1148.3,2102.6 C1153.2,2105.1 1158.0,2107.7 1162.9,2110.1 C1167.8,2112.6 1172.6,2115.0 1177.5,2117.3 C1182.4,2119.7 1187.3,2122.0 1192.1,2124.2 C1197.0,2126.4 1201.9,2128.5 1206.7,2130.5 C1211.6,2132.6 1216.5,2134.6 1221.3,2136.4 C1226.2,2138.3 1231.1,2140.1 1236.0,2141.8 C1240.8,2143.6 1245.7,2145.2 1250.6,2146.8 C1255.4,2148.3 1260.3,2149.8 1265.2,2151.3 C1270.0,2152.7 1274.9,2154.0 1279.8,2155.3 C1284.7,2156.6 1289.5,2157.8 1294.4,2158.9 C1299.3,2160.1 1304.1,2161.1 1309.0,2162.2 C1313.9,2163.2 1318.7,2164.1 1323.6,2165.0 C1328.5,2165.8 1333.4,2166.7 1338.2,2167.4 C1343.1,2168.2 1348.0,2168.8 1352.8,2169.5 C1357.7,2170.1 1362.6,2170.7 1367.4,2171.2 C1372.3,2171.7 1377.2,2172.2 1382.1,2172.6 C1386.9,2173.0 1391.8,2173.4 1396.7,2173.7 C1401.5,2174.0 1406.4,2174.2 1411.3,2174.4 C1416.1,2174.7 1421.0,2174.8 1425.9,2174.9 C1430.8,2175.1 1435.6,2175.1 1440.5,2175.2 C1445.4,2175.2 1450.2,2175.2 1455.1,2175.1 C1460.0,2175.1 1464.8,2175.0 1469.7,2174.9 C1474.6,2174.7 1479.5,2174.6 1484.3,2174.4 C1489.2,2174.2 1494.1,2174.0 1498.9,2173.7 C1503.8,2173.4 1508.7,2173.1 1513.5,2172.8 C1518.4,2172.5 1523.3,2172.1 1528.2,2171.8 C1533.0,2171.4 1537.9,2171.0 1542.8,2170.6 C1547.6,2170.1 1552.5,2169.7 1557.4,2169.2 C1562.2,2168.8 1567.1,2168.3 1572.0,2167.8 C1576.9,2167.3 1584.2,2166.4 1586.6,2166.2" fill="none" stroke="#5F6E7E" stroke-width="4.2" stroke-linecap="butt"/>
<line x1="763.6" y1="1811.4" x2="781.3" y2="1818.6" stroke="#3A7CC8" stroke-width="1.1"/>
<line x1="910.7" y1="1820.6" x2="959.6" y2="1868.7" stroke="#D08A18" stroke-width="1.1"/>
<line x1="891.1" y1="1848.1" x2="954.6" y2="1901.7" stroke="#E14861" stroke-width="1.1"/>
<line x1="770.8" y1="1865.2" x2="818.2" y2="1872.4" stroke="#1589D5" stroke-width="1.1"/>
<line x1="870.4" y1="1886.9" x2="915.2" y2="1916.2" stroke="#12A15F" stroke-width="1.1"/>
<line x1="718.2" y1="1903.8" x2="753.3" y2="1930.0" stroke="#12AA9F" stroke-width="1.1"/>
<line x1="993.7" y1="1922.5" x2="1004.4" y2="1964.8" stroke="#C84095" stroke-width="1.1"/>
<line x1="784.4" y1="1950.2" x2="784.8" y2="1980.1" stroke="#E04851" stroke-width="1.1"/>
<line x1="860.1" y1="1951.2" x2="852.3" y2="1975.0" stroke="#BA429A" stroke-width="1.1"/>
<line x1="1017.0" y1="1952.0" x2="1028.4" y2="1975.1" stroke="#5466B7" stroke-width="1.1"/>
<line x1="913.9" y1="1986.5" x2="981.3" y2="2066.3" stroke="#D58214" stroke-width="1.1"/>
<line x1="1032.9" y1="1982.4" x2="1068.0" y2="1997.8" stroke="#12A364" stroke-width="1.1"/>
<line x1="696.4" y1="1985.8" x2="723.8" y2="2023.6" stroke="#B8901A" stroke-width="1.1"/>
<line x1="767.6" y1="2007.0" x2="793.4" y2="2039.0" stroke="#10AAAA" stroke-width="1.1"/>
<line x1="1102.4" y1="1856.1" x2="1090.3" y2="1875.5" stroke="#8B9E21" stroke-width="1.1"/>
<line x1="517.8" y1="1918.0" x2="497.5" y2="1959.5" stroke="#17A150" stroke-width="1.1"/>
<line x1="523.9" y1="1954.0" x2="508.0" y2="1986.8" stroke="#009E1A" stroke-width="1.1"/>
<line x1="570.5" y1="1987.9" x2="586.0" y2="1998.4" stroke="#1FA7C6" stroke-width="1.1"/>
<line x1="295.5" y1="2021.8" x2="378.0" y2="2052.0" stroke="#C3941D" stroke-width="1.1"/>
<line x1="547.9" y1="2018.4" x2="592.6" y2="2056.2" stroke="#2A9D1A" stroke-width="1.1"/>
<line x1="472.6" y1="2067.7" x2="508.0" y2="2065.5" stroke="#A54FA7" stroke-width="1.1"/>
<line x1="539.2" y1="2092.2" x2="600.5" y2="2068.5" stroke="#9D54AB" stroke-width="1.1"/>
<line x1="556.1" y1="2115.4" x2="601.5" y2="2068.3" stroke="#D33F8E" stroke-width="1.1"/>
<line x1="814.0" y1="2043.2" x2="783.7" y2="2069.6" stroke="#9858AC" stroke-width="1.1"/>
<line x1="628.3" y1="2115.0" x2="652.7" y2="2089.0" stroke="#845DB0" stroke-width="1.1"/>
<line x1="859.4" y1="2073.7" x2="836.7" y2="2095.1" stroke="#BD921B" stroke-width="1.1"/>
<line x1="706.7" y1="2138.5" x2="723.2" y2="2119.1" stroke="#E04766" stroke-width="1.1"/>
<line x1="801.0" y1="2122.6" x2="818.1" y2="2135.6" stroke="#13A88E" stroke-width="1.1"/>
<line x1="822.0" y1="2149.0" x2="895.3" y2="2163.3" stroke="#109F28" stroke-width="1.1"/>
<line x1="889.1" y1="2151.4" x2="917.4" y2="2162.9" stroke="#DB4383" stroke-width="1.1"/>
<line x1="761.6" y1="2172.7" x2="779.6" y2="2156.2" stroke="#1887D3" stroke-width="1.1"/>
<line x1="893.2" y1="2176.1" x2="912.8" y2="2167.0" stroke="#139CCF" stroke-width="1.1"/>
<line x1="1134.6" y1="1883.7" x2="1117.9" y2="1898.8" stroke="#14A67F" stroke-width="1.1"/>
<line x1="1068.6" y1="1950.8" x2="1060.8" y2="1976.2" stroke="#CD901B" stroke-width="1.1"/>
<line x1="1055.6" y1="2018.5" x2="1065.5" y2="2033.9" stroke="#A09615" stroke-width="1.1"/>
<line x1="1101.6" y1="2012.3" x2="1078.9" y2="2038.1" stroke="#13A46D" stroke-width="1.1"/>
<line x1="941.1" y1="2046.3" x2="933.9" y2="2075.2" stroke="#039D1A" stroke-width="1.1"/>
<line x1="1013.3" y1="2046.2" x2="1014.3" y2="2081.3" stroke="#E0475D" stroke-width="1.1"/>
<line x1="991.6" y1="2065.2" x2="1026.7" y2="2094.7" stroke="#039E1A" stroke-width="1.1"/>
<line x1="1038.1" y1="2064.3" x2="1079.3" y2="2064.8" stroke="#5762B4" stroke-width="1.1"/>
<line x1="1274.5" y1="1938.1" x2="1252.4" y2="1978.9" stroke="#875DB0" stroke-width="1.1"/>
<line x1="1442.6" y1="1937.6" x2="1420.4" y2="1955.6" stroke="#DC6A00" stroke-width="1.1"/>
<line x1="1230.1" y1="1965.5" x2="1237.4" y2="1985.4" stroke="#559B1A" stroke-width="1.1"/>
<line x1="1269.3" y1="1985.8" x2="1231.8" y2="2030.1" stroke="#655EB1" stroke-width="1.1"/>
<line x1="1405.1" y1="1990.9" x2="1404.1" y2="2009.5" stroke="#88A023" stroke-width="1.1"/>
<line x1="1343.6" y1="2011.6" x2="1279.2" y2="2030.1" stroke="#B4449C" stroke-width="1.1"/>
<line x1="1476.7" y1="2012.6" x2="1438.1" y2="2036.7" stroke="#D68013" stroke-width="1.1"/>
<line x1="1255.9" y1="2054.9" x2="1236.7" y2="2099.9" stroke="#D87C11" stroke-width="1.1"/>
<line x1="1296.6" y1="2038.8" x2="1248.7" y2="2129.2" stroke="#DA770C" stroke-width="1.1"/>
<line x1="1407.6" y1="2047.7" x2="1359.7" y2="2107.5" stroke="#605EB0" stroke-width="1.1"/>
<line x1="1448.4" y1="2038.4" x2="1365.3" y2="2108.5" stroke="#9A56AB" stroke-width="1.1"/>
<line x1="1216.7" y1="2082.8" x2="1229.5" y2="2120.9" stroke="#1CA4C9" stroke-width="1.1"/>
<line x1="1336.4" y1="2069.3" x2="1322.0" y2="2091.0" stroke="#12A031" stroke-width="1.1"/>
<line x1="1455.4" y1="2077.2" x2="1438.1" y2="2099.7" stroke="#DC6D00" stroke-width="1.1"/>
<line x1="1518.1" y1="2075.7" x2="1477.4" y2="2104.6" stroke="#CA3F93" stroke-width="1.1"/>
<line x1="1410.7" y1="2102.4" x2="1386.5" y2="2140.1" stroke="#139F38" stroke-width="1.1"/>
<line x1="1413.8" y1="2123.0" x2="1357.0" y2="2157.0" stroke="#A94BA4" stroke-width="1.1"/>
<line x1="1259.0" y1="2148.8" x2="1276.6" y2="2134.3" stroke="#C9941D" stroke-width="1.1"/>
<line x1="1335.4" y1="2159.1" x2="1353.9" y2="2152.9" stroke="#13A475" stroke-width="1.1"/>
<line x1="1179.4" y1="2176.5" x2="1197.0" y2="2167.8" stroke="#14A787" stroke-width="1.1"/>
<line x1="1565.5" y1="2039.6" x2="1454.5" y2="2145.9" stroke="#E04876" stroke-width="1.1"/>
<line x1="1485.5" y1="2097.4" x2="1480.5" y2="2123.2" stroke="#11A15A" stroke-width="1.1"/>
<line x1="1665.6" y1="2066.4" x2="1518.1" y2="2138.2" stroke="#6DA022" stroke-width="1.1"/>
<line x1="1564.5" y1="2095.3" x2="1499.9" y2="2126.9" stroke="#C24098" stroke-width="1.1"/>
<line x1="1633.6" y1="2095.3" x2="1499.9" y2="2151.4" stroke="#735DB1" stroke-width="1.1"/>
<line x1="1503.2" y1="2125.2" x2="1475.4" y2="2151.0" stroke="#13A472" stroke-width="1.1"/>
<line x1="1574.8" y1="2123.2" x2="1503.2" y2="2158.8" stroke="#0E8DD7" stroke-width="1.1"/>
<line x1="1652.2" y1="2166.9" x2="1530.5" y2="2168.1" stroke="#0E9F1D" stroke-width="1.1"/>
<line x1="1576.9" y1="2177.4" x2="1555.2" y2="2173.7" stroke="#2180CC" stroke-width="1.1"/>
<line x1="1647.0" y1="2203.6" x2="1474.3" y2="2205.7" stroke="#B6951D" stroke-width="1.1"/>
<line x1="1594.4" y1="2231.5" x2="1540.2" y2="2220.5" stroke="#0B97D4" stroke-width="1.1"/>
<line x1="1473.9" y1="2231.5" x2="1425.0" y2="2204.0" stroke="#13A997" stroke-width="1.1"/>
<line x1="1638.8" y1="2257.3" x2="1586.9" y2="2242.2" stroke="#C54096" stroke-width="1.1"/>
<line x1="969.0" y1="2123.1" x2="994.3" y2="2130.3" stroke="#0991D8" stroke-width="1.1"/>
<line x1="1017.6" y1="2150.9" x2="1057.7" y2="2163.3" stroke="#5A5EB0" stroke-width="1.1"/>
<line x1="1090.7" y1="2160.9" x2="1110.5" y2="2176.1" stroke="#AE469F" stroke-width="1.1"/>
<line x1="917.0" y1="2195.3" x2="938.0" y2="2180.9" stroke="#0D98D3" stroke-width="1.1"/>
<line x1="1074.2" y1="2178.8" x2="1183.6" y2="2197.1" stroke="#0F9AD2" stroke-width="1.1"/>
<line x1="991.2" y1="2206.7" x2="1008.2" y2="2200.9" stroke="#0A8FD7" stroke-width="1.1"/>
<line x1="845.2" y1="2234.5" x2="949.0" y2="2226.3" stroke="#925CAE" stroke-width="1.1"/>
<line x1="1071.3" y1="2233.5" x2="1152.2" y2="2224.2" stroke="#DD6606" stroke-width="1.1"/>
<line x1="914.5" y1="2263.4" x2="1010.8" y2="2244.2" stroke="#D53F8B" stroke-width="1.1"/>
<line x1="1012.9" y1="2261.3" x2="1102.2" y2="2236.2" stroke="#009D1A" stroke-width="1.1"/>
<line x1="1093.4" y1="2259.3" x2="1123.7" y2="2241.7" stroke="#D43F8D" stroke-width="1.1"/>
<line x1="962.4" y1="2291.7" x2="1115.4" y2="2237.2" stroke="#DB4285" stroke-width="1.1"/>
<line x1="1050.0" y1="2289.6" x2="1152.6" y2="2238.4" stroke="#B7439C" stroke-width="1.1"/>
<line x1="1189.7" y1="2266.3" x2="1205.6" y2="2225.0" stroke="#A351A8" stroke-width="1.1"/>
<line x1="991.2" y1="2319.1" x2="1078.9" y2="2277.8" stroke="#E0486A" stroke-width="1.1"/>
<line x1="1137.1" y1="2294.1" x2="1192.4" y2="2258.0" stroke="#DD6318" stroke-width="1.1"/>
<line x1="1088.2" y1="2322.2" x2="1139.4" y2="2256.2" stroke="#DB7002" stroke-width="1.1"/>
<line x1="1179.4" y1="2302.4" x2="1193.9" y2="2284.8" stroke="#DF5433" stroke-width="1.1"/>
<line x1="1019.1" y1="2352.1" x2="1198.6" y2="2267.3" stroke="#1A86D1" stroke-width="1.1"/>
<line x1="1161.9" y1="2337.4" x2="1263.0" y2="2278.0" stroke="#DD4480" stroke-width="1.1"/>
<line x1="1128.4" y1="2365.5" x2="1196.3" y2="2277.6" stroke="#13A88B" stroke-width="1.1"/>
<line x1="1245.5" y1="2278.0" x2="1277.8" y2="2244.6" stroke="#7C5DB0" stroke-width="1.1"/>
<line x1="1300.1" y1="2249.7" x2="1308.0" y2="2229.5" stroke="#D87F12" stroke-width="1.1"/>
<line x1="1337.3" y1="2278.6" x2="1319.7" y2="2232.6" stroke="#11A055" stroke-width="1.1"/>
<line x1="1375.4" y1="2306.5" x2="1333.8" y2="2242.9" stroke="#8E9C1F" stroke-width="1.1"/>
<line x1="1293.9" y1="2306.5" x2="1283.6" y2="2288.3" stroke="#1F81CD" stroke-width="1.1"/>
<line x1="1323.9" y1="2339.5" x2="1297.6" y2="2289.6" stroke="#969817" stroke-width="1.1"/>
<line x1="1242.4" y1="2330.2" x2="1283.2" y2="2296.2" stroke="#AD991C" stroke-width="1.1"/>
<line x1="1206.3" y1="2365.3" x2="1250.6" y2="2312.7" stroke="#4178C5" stroke-width="1.1"/>
<line x1="1388.8" y1="2342.6" x2="1344.5" y2="2331.2" stroke="#17A045" stroke-width="1.1"/>
<line x1="1415.7" y1="2278.0" x2="1394.6" y2="2255.3" stroke="#11A9A3" stroke-width="1.1"/>
<line x1="1619.3" y1="2314.4" x2="1385.2" y2="2193.7" stroke="#955AAD" stroke-width="1.1"/>
<line x1="1474.9" y1="2285.5" x2="1441.9" y2="2237.0" stroke="#A74DA5" stroke-width="1.1"/>
<line x1="1572.9" y1="2285.5" x2="1467.7" y2="2237.7" stroke="#DF592E" stroke-width="1.1"/>
<line x1="1581.2" y1="2344.3" x2="1421.3" y2="2246.7" stroke="#1C9D1A" stroke-width="1.1"/>
<line x1="1532.7" y1="2314.4" x2="1442.9" y2="2254.6" stroke="#22ABC3" stroke-width="1.1"/>
<line x1="1473.9" y1="2356.7" x2="1416.7" y2="2260.8" stroke="#AB4AA3" stroke-width="1.1"/>
<line x1="1506.9" y1="2343.3" x2="1449.7" y2="2276.9" stroke="#009E1A" stroke-width="1.1"/>
<line x1="772.3" y1="2232.9" x2="851.4" y2="2221.1" stroke="#CD3F92" stroke-width="1.1"/>
<line x1="1017.0" y1="2094.1" x2="1041.2" y2="2099.8" stroke="#CE8E1A" stroke-width="1.1"/>
<g class="lb">
<text x="782.2" y="1337.9" fill="#10A050" stroke="#10A050">Honduras</text>
<text x="633.0" y="1495.0" fill="#12A050" stroke="#12A050">Haiti</text>
<text x="870.4" y="1608.3" fill="#3D9C1A" stroke="#3D9C1A">El Salvador</text>
<text x="779.9" y="1648.1" fill="#19A04A" stroke="#19A04A">Guatemala</text>
<text x="599.1" y="1725.0" fill="#0A8ED8" stroke="#0A8ED8">Nepal</text>
<text x="670.1" y="1745.6" fill="#D28817" stroke="#D28817">Bhutan</text>
<text x="768.1" y="1789.9" fill="#D97A10" stroke="#D97A10">Bangladesh</text>
<text x="940.9" y="1730.9" fill="#509A1A" stroke="#509A1A">Dominican Republic</text>
<text x="871.2" y="1696.1" fill="#8E5EAE" stroke="#8E5EAE">Saint Vincent and the Grenadines</text>
<text x="1071.1" y="1794.5" fill="#8B5EAF" stroke="#8B5EAF">Saint Lucia</text>
<text x="1107.3" y="1824.0" fill="#15A03F" stroke="#15A03F">Grenada</text>
<text x="994.2" y="1822.4" fill="#15A050" stroke="#15A050">Guyana</text>
<text x="690.9" y="1817.5" fill="#3A7CC8" stroke="#3A7CC8">Pakistan</text>
<text x="774.0" y="1817.5" fill="#D08A18" stroke="#D08A18">Bolivia (Plurinational State of)</text>
<text x="716.2" y="1844.8" fill="#E14861" stroke="#E14861">Venezuela (Bolivarian Republic of)</text>
<text x="684.7" y="1872.2" fill="#1589D5" stroke="#1589D5">Nicaragua</text>
<text x="826.4" y="1892.2" fill="#12A15F" stroke="#12A15F">India</text>
<text x="974.2" y="1882.9" fill="#449C1A" stroke="#449C1A">Egypt</text>
<text x="544.8" y="1899.4" fill="#12AA9F" stroke="#12AA9F">Lao People's Democratic Republic</text>
<text x="818.1" y="1919.3" fill="#C84095" stroke="#C84095">Syrian Arab Republic</text>
<text x="942.9" y="1924.4" fill="#4773C2" stroke="#4773C2">Palestine</text>
<text x="594.3" y="1927.7" fill="#D13E8F" stroke="#D13E8F">Timor−Leste</text>
<text x="753.9" y="1946.9" fill="#E04851" stroke="#E04851">Zambia</text>
<text x="834.2" y="1946.9" fill="#BA429A" stroke="#BA429A">Sudan</text>
<text x="937.5" y="1954.3" fill="#5466B7" stroke="#5466B7">Paraguay</text>
<text x="655.3" y="1963.1" fill="#B7921C" stroke="#B7921C">Cameroon</text>
<text x="766.2" y="1974.7" fill="#0992D7" stroke="#0992D7">Myanmar</text>
<text x="886.4" y="1982.1" fill="#D58214" stroke="#D58214">Belize</text>
<text x="949.7" y="1986.9" fill="#12A364" stroke="#12A364">Indonesia</text>
<text x="609.9" y="1990.3" fill="#B8901A" stroke="#B8901A">Cambodia</text>
<text x="730.0" y="2003.1" fill="#10AAAA" stroke="#10AAAA">Lesotho</text>
<text x="1010.2" y="1856.3" fill="#0E99D2" stroke="#0E99D2">Mexico</text>
<text x="1081.5" y="1852.1" fill="#8B9E21" stroke="#8B9E21">Cuba</text>
<text x="292.9" y="1817.6" fill="#C8961E" stroke="#C8961E">Burkina Faso</text>
<text x="457.3" y="1872.9" fill="#E04840" stroke="#E04840">Afghanistan</text>
<text x="240.6" y="1920.9" fill="#B39A20" stroke="#B39A20">Chad</text>
<text x="339.0" y="1900.6" fill="#0993D7" stroke="#0993D7">Mozambique</text>
<text x="457.3" y="1914.4" fill="#17A150" stroke="#17A150">Guinea−Bissau</text>
<text x="398.3" y="1942.3" fill="#1AA050" stroke="#1AA050">Guinea</text>
<text x="491.2" y="1950.4" fill="#009E1A" stroke="#009E1A">Ethiopia</text>
<text x="210.5" y="1972.3" fill="#B5971F" stroke="#B5971F">Central African Republic</text>
<text x="297.9" y="2000.0" fill="#18A0CD" stroke="#18A0CD">Mali</text>
<text x="428.3" y="1995.2" fill="#25AFBF" stroke="#25AFBF">Liberia</text>
<text x="498.2" y="1983.2" fill="#1FA7C6" stroke="#1FA7C6">Madagascar</text>
<text x="228.4" y="2028.1" fill="#C3941D" stroke="#C3941D">Burundi</text>
<text x="490.1" y="2022.5" fill="#2A9D1A" stroke="#2A9D1A">Eritrea</text>
<text x="258.6" y="2043.4" fill="#7FA52A" stroke="#7FA52A">Democratic Republic of the Congo</text>
<text x="242.9" y="2078.3" fill="#B0459E" stroke="#B0459E">South Sudan</text>
<text x="365.2" y="2075.1" fill="#A54FA7" stroke="#A54FA7">Sierra Leone</text>
<text x="511.3" y="2065.2" fill="#1EA6C7" stroke="#1EA6C7">Malawi</text>
<text x="469.4" y="2099.5" fill="#9D54AB" stroke="#9D54AB">Senegal</text>
<text x="471.5" y="2127.1" fill="#D48415" stroke="#D48415">Benin</text>
<text x="534.0" y="2132.3" fill="#D33F8E" stroke="#D33F8E">Togo</text>
<text x="430.8" y="2177.2" fill="#E0487A" stroke="#E0487A">United Republic of Tanzania</text>
<text x="575.8" y="1956.9" fill="#069F1A" stroke="#069F1A">Gambia</text>
<text x="713.5" y="2010.5" fill="#82A428" stroke="#82A428">Democratic People's Republic of Korea</text>
<text x="555.8" y="2018.8" fill="#919B1C" stroke="#919B1C">Côte d'Ivoire</text>
<text x="662.0" y="2018.8" fill="#DE5C29" stroke="#DE5C29">Angola</text>
<text x="581.1" y="2047.1" fill="#AD48A2" stroke="#AD48A2">Solomon Islands</text>
<text x="713.5" y="2047.1" fill="#5A9A1A" stroke="#5A9A1A">Djibouti</text>
<text x="738.9" y="2039.4" fill="#9858AC" stroke="#9858AC">Sao Tome and Principe</text>
<text x="650.4" y="2074.5" fill="#E04748" stroke="#E04748">Zimbabwe</text>
<text x="563.0" y="2103.8" fill="#DC4482" stroke="#DC4482">Uganda</text>
<text x="587.6" y="2132.3" fill="#845DB0" stroke="#845DB0">Rwanda</text>
<text x="654.9" y="2105.4" fill="#9A9410" stroke="#9A9410">Comoros</text>
<text x="747.5" y="2095.9" fill="#109AD0" stroke="#109AD0">Mauritania</text>
<text x="823.4" y="2068.7" fill="#BD921B" stroke="#BD921B">Cabo Verde</text>
<text x="670.1" y="2155.4" fill="#E04766" stroke="#E04766">Vanuatu</text>
<text x="746.5" y="2126.1" fill="#13A88E" stroke="#13A88E">Kenya</text>
<text x="813.0" y="2125.4" fill="#0994D6" stroke="#0994D6">Morocco</text>
<text x="753.3" y="2155.4" fill="#109F28" stroke="#109F28">Ghana</text>
<text x="834.0" y="2156.3" fill="#DB4383" stroke="#DB4383">Tuvalu</text>
<text x="700.7" y="2182.8" fill="#1887D3" stroke="#1887D3">Nigeria</text>
<text x="758.7" y="2184.8" fill="#139CCF" stroke="#139CCF">Marshall Islands</text>
<text x="1109.6" y="1880.0" fill="#14A67F" stroke="#14A67F">Jamaica</text>
<text x="1131.3" y="1904.8" fill="#13A368" stroke="#13A368">Iran (Islamic Republic of)</text>
<text x="1033.1" y="1910.9" fill="#BE4299" stroke="#BE4299">Suriname</text>
<text x="1045.4" y="1946.4" fill="#CD901B" stroke="#CD901B">Brazil</text>
<text x="1109.2" y="1953.9" fill="#4C6FBF" stroke="#4C6FBF">Panama</text>
<text x="1072.7" y="1982.1" fill="#DF5138" stroke="#DF5138">Algeria</text>
<text x="1150.6" y="1988.9" fill="#939919" stroke="#939919">Costa Rica</text>
<text x="1016.1" y="2014.1" fill="#A09615" stroke="#A09615">Colombia</text>
<text x="1104.4" y="2018.2" fill="#13A46D" stroke="#13A46D">Iraq</text>
<text x="1151.1" y="2017.3" fill="#A79719" stroke="#A79719">China</text>
<text x="906.6" y="2042.0" fill="#039D1A" stroke="#039D1A">Eswatini</text>
<text x="977.1" y="2042.0" fill="#E0475D" stroke="#E0475D">Viet Nam</text>
<text x="1066.5" y="2044.0" fill="#D94188" stroke="#D94188">Tunisia</text>
<text x="1139.3" y="2045.8" fill="#0A9F1A" stroke="#0A9F1A">Georgia</text>
<text x="933.6" y="2069.7" fill="#039E1A" stroke="#039E1A">Gabon</text>
<text x="1002.1" y="2071.7" fill="#5762B4" stroke="#5762B4">Peru</text>
<text x="1035.5" y="2073.8" fill="#CF8C19" stroke="#CF8C19">Bosnia and Herzegovina</text>
<text x="1345.8" y="1898.6" fill="#169FCD" stroke="#169FCD">Malta</text>
<text x="1192.6" y="1934.3" fill="#875DB0" stroke="#875DB0">Saint Kitts and Nevis</text>
<text x="1421.6" y="1933.7" fill="#DC6A00" stroke="#DC6A00">Australia</text>
<text x="1320.9" y="1961.1" fill="#0A95D6" stroke="#0A95D6">Montenegro</text>
<text x="1442.8" y="1964.7" fill="#128BD5" stroke="#128BD5">New Zealand</text>
<text x="1191.5" y="1961.6" fill="#559B1A" stroke="#559B1A">Dominica</text>
<text x="1272.6" y="1989.7" fill="#655EB1" stroke="#655EB1">Portugal</text>
<text x="1408.3" y="1992.8" fill="#88A023" stroke="#88A023">Cyprus</text>
<text x="1183.7" y="2016.5" fill="#DD5F21" stroke="#DD5F21">Antigua and Barbuda</text>
<text x="1348.6" y="2016.5" fill="#B4449C" stroke="#B4449C">Spain</text>
<text x="1479.9" y="2016.5" fill="#D68013" stroke="#D68013">Belgium</text>
<text x="1217.7" y="2050.5" fill="#D87C11" stroke="#D87C11">Barbados</text>
<text x="1299.8" y="2043.7" fill="#DA770C" stroke="#DA770C">Bahrain</text>
<text x="1382.4" y="2043.3" fill="#605EB0" stroke="#605EB0">Poland</text>
<text x="1452.2" y="2043.3" fill="#9A56AB" stroke="#9A56AB">Saudi Arabia</text>
<text x="1180.2" y="2078.4" fill="#1CA4C9" stroke="#1CA4C9">Malaysia</text>
<text x="1274.0" y="2078.0" fill="#2A7ECA" stroke="#2A7ECA">Oman</text>
<text x="1340.0" y="2071.2" fill="#12A031" stroke="#12A031">Greece</text>
<text x="1430.3" y="2072.2" fill="#DC6D00" stroke="#DC6D00">Austria</text>
<text x="1474.4" y="2072.4" fill="#CA3F93" stroke="#CA3F93">Taiwan (Province of China)</text>
<text x="1136.1" y="2107.3" fill="#E04C3C" stroke="#E04C3C">Albania</text>
<text x="1189.4" y="2110.4" fill="#1D84CF" stroke="#1D84CF">North Macedonia</text>
<text x="1263.7" y="2106.3" fill="#CC921C" stroke="#CC921C">Brunei Darussalam</text>
<text x="1370.6" y="2100.1" fill="#139F38" stroke="#139F38">Greenland</text>
<text x="1358.0" y="2134.5" fill="#14A67A" stroke="#14A67A">Italy</text>
<text x="1417.5" y="2127.9" fill="#A94BA4" stroke="#A94BA4">Slovakia</text>
<text x="1192.5" y="2138.2" fill="#24ADC1" stroke="#24ADC1">Libya</text>
<text x="1267.8" y="2138.2" fill="#DA7407" stroke="#DA7407">Bahamas</text>
<text x="1207.0" y="2165.1" fill="#C9941D" stroke="#C9941D">Bulgaria</text>
<text x="1286.6" y="2166.7" fill="#13A475" stroke="#13A475">Israel</text>
<text x="1405.7" y="2156.8" fill="#009F1A" stroke="#009F1A">France</text>
<text x="1280.3" y="2184.7" fill="#E14872" stroke="#E14872">United States Virgin Islands</text>
<text x="1150.1" y="2194.8" fill="#D64089" stroke="#D64089">Trinidad and Tobago</text>
<text x="1112.6" y="2158.4" fill="#E0476E" stroke="#E0476E">Uruguay</text>
<text x="1121.4" y="2186.6" fill="#14A787" stroke="#14A787">Jordan</text>
<text x="1569.3" y="2044.5" fill="#E04876" stroke="#E04876">United States of America</text>
<text x="1487.5" y="2100.2" fill="#11A15A" stroke="#11A15A">Iceland</text>
<text x="1668.2" y="2072.4" fill="#6DA022" stroke="#6DA022">Denmark</text>
<text x="1568.9" y="2100.2" fill="#C24098" stroke="#C24098">Sweden</text>
<text x="1637.3" y="2100.2" fill="#735DB1" stroke="#735DB1">Republic of Korea</text>
<text x="1508.1" y="2128.7" fill="#13A472" stroke="#13A472">Ireland</text>
<text x="1578.1" y="2128.7" fill="#0E8DD7" stroke="#0E8DD7">Netherlands</text>
<text x="1519.7" y="2158.0" fill="#21AAC5" stroke="#21AAC5">Luxembourg</text>
<text x="1655.4" y="2173.5" fill="#0E9F1D" stroke="#0E9F1D">Germany</text>
<text x="1580.5" y="2183.8" fill="#2180CC" stroke="#2180CC">Norway</text>
<text x="1392.1" y="2185.4" fill="#DF467D" stroke="#DF467D">United Arab Emirates</text>
<text x="1495.8" y="2211.7" fill="#DF477C" stroke="#DF477C">United Kingdom</text>
<text x="1651.3" y="2210.2" fill="#B6951D" stroke="#B6951D">Canada</text>
<text x="1402.4" y="2214.3" fill="#85A226" stroke="#85A226">Czechia</text>
<text x="1597.5" y="2237.4" fill="#0B97D4" stroke="#0B97D4">Monaco</text>
<text x="1477.1" y="2238.9" fill="#13A997" stroke="#13A997">Kuwait</text>
<text x="1643.3" y="2264.7" fill="#C54096" stroke="#C54096">Switzerland</text>
<text x="1513.6" y="2265.7" fill="#6A5EB1" stroke="#6A5EB1">Puerto Rico</text>
<text x="899.0" y="2129.1" fill="#0991D8" stroke="#0991D8">Namibia</text>
<text x="990.8" y="2128.5" fill="#1AA2CB" stroke="#1AA2CB">Maldives</text>
<text x="1082.2" y="2129.1" fill="#4A9B1A" stroke="#4A9B1A">Ecuador</text>
<text x="925.8" y="2156.3" fill="#5A5EB0" stroke="#5A5EB0">Philippines</text>
<text x="1025.5" y="2156.3" fill="#AE469F" stroke="#AE469F">South Africa</text>
<text x="922.1" y="2184.8" fill="#0B96D5" stroke="#0B96D5">Mongolia</text>
<text x="727.1" y="2212.0" fill="#0D98D3" stroke="#0D98D3">Micronesia (Federated States of)</text>
<text x="995.5" y="2184.8" fill="#0F9AD2" stroke="#0F9AD2">Mauritius</text>
<text x="934.0" y="2214.7" fill="#0A8FD7" stroke="#0A8FD7">Nauru</text>
<text x="1039.3" y="2211.6" fill="#D03E90" stroke="#D03E90">Thailand</text>
<text x="1123.9" y="2224.8" fill="#DA4186" stroke="#DA4186">Türkiye</text>
<text x="783.9" y="2241.3" fill="#925CAE" stroke="#925CAE">Samoa</text>
<text x="866.4" y="2243.6" fill="#12A99A" stroke="#12A99A">Kyrgyzstan</text>
<text x="999.5" y="2240.5" fill="#DD6606" stroke="#DD6606">Armenia</text>
<text x="861.9" y="2270.4" fill="#D53F8B" stroke="#D53F8B">Tonga</text>
<text x="985.2" y="2267.7" fill="#009D1A" stroke="#009D1A">Fiji</text>
<text x="1030.0" y="2267.7" fill="#D43F8D" stroke="#D43F8D">Tokelau</text>
<text x="851.6" y="2298.6" fill="#DB4285" stroke="#DB4285">Turkmenistan</text>
<text x="969.8" y="2297.2" fill="#B7439C" stroke="#B7439C">Sri Lanka</text>
<text x="1098.8" y="2275.9" fill="#A351A8" stroke="#A351A8">Seychelles</text>
<text x="897.0" y="2326.7" fill="#E0486A" stroke="#E0486A">Uzbekistan</text>
<text x="1057.3" y="2303.4" fill="#DD6318" stroke="#DD6318">Argentina</text>
<text x="999.5" y="2330.2" fill="#DB7002" stroke="#DB7002">Azerbaijan</text>
<text x="1106.8" y="2318.5" fill="#DF5433" stroke="#DF5433">American Samoa</text>
<text x="977.8" y="2358.1" fill="#1A86D1" stroke="#1A86D1">Niue</text>
<text x="1095.1" y="2344.5" fill="#DD4480" stroke="#DD4480">Ukraine</text>
<text x="1029.4" y="2371.5" fill="#13A88B" stroke="#13A88B">Kazakhstan</text>
<text x="1238.8" y="2221.7" fill="#11AAA6" stroke="#11AAA6">Lebanon</text>
<text x="1323.1" y="2212.0" fill="#A052A9" stroke="#A052A9">Serbia</text>
<text x="1138.1" y="2247.5" fill="#785DB1" stroke="#785DB1">Republic of Moldova</text>
<text x="1200.6" y="2294.5" fill="#7C5DB0" stroke="#7C5DB0">Romania</text>
<text x="1269.3" y="2266.4" fill="#D87F12" stroke="#D87F12">Belarus</text>
<text x="1288.3" y="2266.4" fill="#805DB1" stroke="#805DB1">Russian Federation</text>
<text x="1302.8" y="2294.5" fill="#11A055" stroke="#11A055">Hungary</text>
<text x="1349.8" y="2322.8" fill="#8E9C1F" stroke="#8E9C1F">Croatia</text>
<text x="1191.3" y="2322.8" fill="#1F81CD" stroke="#1F81CD">Northern Mariana Islands</text>
<text x="1272.0" y="2355.8" fill="#969817" stroke="#969817">Cook Islands</text>
<text x="1216.7" y="2346.5" fill="#AD991C" stroke="#AD991C">Chile</text>
<text x="1156.3" y="2373.3" fill="#4178C5" stroke="#4178C5">Palau</text>
<text x="1393.1" y="2350.2" fill="#17A045" stroke="#17A045">Guam</text>
<text x="1358.0" y="2240.2" fill="#D38716" stroke="#D38716">Bermuda</text>
<text x="1396.6" y="2294.5" fill="#11A9A3" stroke="#11A9A3">Latvia</text>
<text x="1622.2" y="2321.4" fill="#955AAD" stroke="#955AAD">San Marino</text>
<text x="1448.2" y="2266.1" fill="#6F5DB1" stroke="#6F5DB1">Qatar</text>
<text x="1477.8" y="2293.6" fill="#A74DA5" stroke="#A74DA5">Singapore</text>
<text x="1577.0" y="2292.5" fill="#DF592E" stroke="#DF592E">Andorra</text>
<text x="1584.8" y="2351.3" fill="#1C9D1A" stroke="#1C9D1A">Estonia</text>
<text x="1534.9" y="2322.4" fill="#22ABC3" stroke="#22ABC3">Lithuania</text>
<text x="1441.1" y="2373.0" fill="#AB4AA3" stroke="#AB4AA3">Slovenia</text>
<text x="1509.5" y="2350.3" fill="#009E1A" stroke="#009E1A">Finland</text>
<text x="1456.0" y="2322.4" fill="#14A782" stroke="#14A782">Japan</text>
<text x="564.1" y="2204.9" fill="#506BBB" stroke="#506BBB">Papua New Guinea</text>
<text x="694.6" y="2239.9" fill="#CD3F92" stroke="#CD3F92">Tajikistan</text>
<text x="770.4" y="2272.1" fill="#13A893" stroke="#13A893">Kiribati</text>
<text x="612.6" y="1851.3" fill="#E04858" stroke="#E04858">Yemen</text>
<text x="865.5" y="2098.6" fill="#989613" stroke="#989613">Congo</text>
<text x="933.0" y="2100.2" fill="#CE8E1A" stroke="#CE8E1A">Botswana</text>
<text x="1018.0" y="2101.7" fill="#359C1A" stroke="#359C1A">Equatorial Guinea</text>
</g>
<path d="M135.2,1297.9 L135.2,2380.0 L1787.8,2380.0" fill="none" stroke="#000" stroke-width="2.1" stroke-linejoin="round"/>
<line x1="130.0" y1="2100.1" x2="135.2" y2="2100.1" stroke="#333" stroke-width="2.1"/>
<text x="123.5" y="2113.3" text-anchor="end" class="tick">2.5</text>
<line x1="130.0" y1="1803.6" x2="135.2" y2="1803.6" stroke="#333" stroke-width="2.1"/>
<text x="123.5" y="1816.8" text-anchor="end" class="tick">5.0</text>
<line x1="130.0" y1="1507.1" x2="135.2" y2="1507.1" stroke="#333" stroke-width="2.1"/>
<text x="123.5" y="1520.3" text-anchor="end" class="tick">7.5</text>
<line x1="210.1" y1="2380.0" x2="210.1" y2="2385.2" stroke="#333" stroke-width="2.1"/>
<text x="211.3" y="2420.2" text-anchor="middle" class="tick">0.2</text>
<line x1="397.9" y1="2380.0" x2="397.9" y2="2385.2" stroke="#333" stroke-width="2.1"/>
<text x="399.1" y="2420.2" text-anchor="middle" class="tick">0.3</text>
<line x1="585.8" y1="2380.0" x2="585.8" y2="2385.2" stroke="#333" stroke-width="2.1"/>
<text x="587.0" y="2420.2" text-anchor="middle" class="tick">0.4</text>
<line x1="773.6" y1="2380.0" x2="773.6" y2="2385.2" stroke="#333" stroke-width="2.1"/>
<text x="774.8" y="2420.2" text-anchor="middle" class="tick">0.5</text>
<line x1="961.4" y1="2380.0" x2="961.4" y2="2385.2" stroke="#333" stroke-width="2.1"/>
<text x="962.6" y="2420.2" text-anchor="middle" class="tick">0.6</text>
<line x1="1149.2" y1="2380.0" x2="1149.2" y2="2385.2" stroke="#333" stroke-width="2.1"/>
<text x="1150.5" y="2420.2" text-anchor="middle" class="tick">0.7</text>
<line x1="1337.1" y1="2380.0" x2="1337.1" y2="2385.2" stroke="#333" stroke-width="2.1"/>
<text x="1338.3" y="2420.2" text-anchor="middle" class="tick">0.8</text>
<line x1="1524.9" y1="2380.0" x2="1524.9" y2="2385.2" stroke="#333" stroke-width="2.1"/>
<text x="1526.1" y="2420.2" text-anchor="middle" class="tick">0.9</text>
<line x1="1712.7" y1="2380.0" x2="1712.7" y2="2385.2" stroke="#333" stroke-width="2.1"/>
<text x="1713.9" y="2420.2" text-anchor="middle" class="tick">1.0</text>
<text x="968.3" y="2462.5" text-anchor="middle" class="title">SDI</text>
<text transform="translate(28.9,1907.8) rotate(-90)" text-anchor="middle" class="title">DALY Rate per 100,000 population</text>
<text x="11.1" y="1298.3" class="letter">B</text>
</svg>
</body></html>
